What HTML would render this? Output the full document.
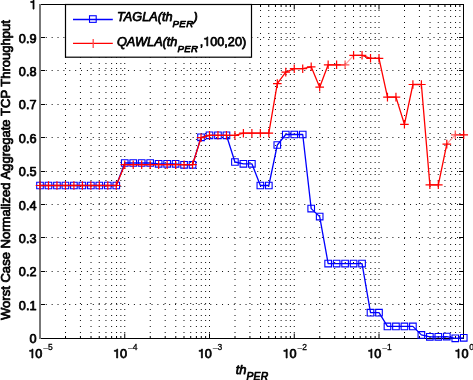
<!DOCTYPE html><html><head><meta charset="utf-8"><style>
html,body{margin:0;padding:0;background:#fff;}body{width:473px;height:380px;overflow:hidden;position:relative;}
svg{position:absolute;left:0;top:0;will-change:transform;}.one{fill-opacity:0;stroke-opacity:0;}text{font-family:"Liberation Sans",sans-serif;fill:#000;stroke:#000;stroke-width:0.75px;stroke-linejoin:round;}
</style></head><body>
<svg width="473" height="380" viewBox="0 0 473 380">
<path d="M65.01 332h1v1h-1zM65.01 326h1v1h-1zM65.01 320h1v1h-1zM65.01 315h1v1h-1zM65.01 309h1v1h-1zM65.01 303h1v1h-1zM65.01 297h1v1h-1zM65.01 291h1v1h-1zM65.01 285h1v1h-1zM65.01 279h1v1h-1zM65.01 274h1v1h-1zM65.01 268h1v1h-1zM65.01 262h1v1h-1zM65.01 256h1v1h-1zM65.01 250h1v1h-1zM65.01 244h1v1h-1zM65.01 238h1v1h-1zM65.01 232h1v1h-1zM65.01 227h1v1h-1zM65.01 221h1v1h-1zM65.01 215h1v1h-1zM65.01 209h1v1h-1zM65.01 203h1v1h-1zM65.01 197h1v1h-1zM65.01 191h1v1h-1zM65.01 186h1v1h-1zM65.01 180h1v1h-1zM65.01 174h1v1h-1zM65.01 168h1v1h-1zM65.01 162h1v1h-1zM65.01 156h1v1h-1zM65.01 150h1v1h-1zM65.01 145h1v1h-1zM65.01 139h1v1h-1zM65.01 133h1v1h-1zM65.01 127h1v1h-1zM65.01 121h1v1h-1zM65.01 115h1v1h-1zM65.01 109h1v1h-1zM65.01 104h1v1h-1zM65.01 98h1v1h-1zM65.01 92h1v1h-1zM65.01 86h1v1h-1zM65.01 80h1v1h-1zM65.01 74h1v1h-1zM65.01 68h1v1h-1zM65.01 63h1v1h-1zM65.01 57h1v1h-1zM65.01 51h1v1h-1zM65.01 45h1v1h-1zM65.01 39h1v1h-1zM65.01 33h1v1h-1zM65.01 27h1v1h-1zM65.01 22h1v1h-1zM65.01 16h1v1h-1zM65.01 10h1v1h-1zM79.94 332h1v1h-1zM79.94 326h1v1h-1zM79.94 320h1v1h-1zM79.94 315h1v1h-1zM79.94 309h1v1h-1zM79.94 303h1v1h-1zM79.94 297h1v1h-1zM79.94 291h1v1h-1zM79.94 285h1v1h-1zM79.94 279h1v1h-1zM79.94 274h1v1h-1zM79.94 268h1v1h-1zM79.94 262h1v1h-1zM79.94 256h1v1h-1zM79.94 250h1v1h-1zM79.94 244h1v1h-1zM79.94 238h1v1h-1zM79.94 232h1v1h-1zM79.94 227h1v1h-1zM79.94 221h1v1h-1zM79.94 215h1v1h-1zM79.94 209h1v1h-1zM79.94 203h1v1h-1zM79.94 197h1v1h-1zM79.94 191h1v1h-1zM79.94 186h1v1h-1zM79.94 180h1v1h-1zM79.94 174h1v1h-1zM79.94 168h1v1h-1zM79.94 162h1v1h-1zM79.94 156h1v1h-1zM79.94 150h1v1h-1zM79.94 145h1v1h-1zM79.94 139h1v1h-1zM79.94 133h1v1h-1zM79.94 127h1v1h-1zM79.94 121h1v1h-1zM79.94 115h1v1h-1zM79.94 109h1v1h-1zM79.94 104h1v1h-1zM79.94 98h1v1h-1zM79.94 92h1v1h-1zM79.94 86h1v1h-1zM79.94 80h1v1h-1zM79.94 74h1v1h-1zM79.94 68h1v1h-1zM79.94 63h1v1h-1zM79.94 57h1v1h-1zM79.94 51h1v1h-1zM79.94 45h1v1h-1zM79.94 39h1v1h-1zM79.94 33h1v1h-1zM79.94 27h1v1h-1zM79.94 22h1v1h-1zM79.94 16h1v1h-1zM79.94 10h1v1h-1zM90.52 332h1v1h-1zM90.52 326h1v1h-1zM90.52 320h1v1h-1zM90.52 315h1v1h-1zM90.52 309h1v1h-1zM90.52 303h1v1h-1zM90.52 297h1v1h-1zM90.52 291h1v1h-1zM90.52 285h1v1h-1zM90.52 279h1v1h-1zM90.52 274h1v1h-1zM90.52 268h1v1h-1zM90.52 262h1v1h-1zM90.52 256h1v1h-1zM90.52 250h1v1h-1zM90.52 244h1v1h-1zM90.52 238h1v1h-1zM90.52 232h1v1h-1zM90.52 227h1v1h-1zM90.52 221h1v1h-1zM90.52 215h1v1h-1zM90.52 209h1v1h-1zM90.52 203h1v1h-1zM90.52 197h1v1h-1zM90.52 191h1v1h-1zM90.52 186h1v1h-1zM90.52 180h1v1h-1zM90.52 174h1v1h-1zM90.52 168h1v1h-1zM90.52 162h1v1h-1zM90.52 156h1v1h-1zM90.52 150h1v1h-1zM90.52 145h1v1h-1zM90.52 139h1v1h-1zM90.52 133h1v1h-1zM90.52 127h1v1h-1zM90.52 121h1v1h-1zM90.52 115h1v1h-1zM90.52 109h1v1h-1zM90.52 104h1v1h-1zM90.52 98h1v1h-1zM90.52 92h1v1h-1zM90.52 86h1v1h-1zM90.52 80h1v1h-1zM90.52 74h1v1h-1zM90.52 68h1v1h-1zM90.52 63h1v1h-1zM90.52 57h1v1h-1zM90.52 51h1v1h-1zM90.52 45h1v1h-1zM90.52 39h1v1h-1zM90.52 33h1v1h-1zM90.52 27h1v1h-1zM90.52 22h1v1h-1zM90.52 16h1v1h-1zM90.52 10h1v1h-1zM98.74 332h1v1h-1zM98.74 326h1v1h-1zM98.74 320h1v1h-1zM98.74 315h1v1h-1zM98.74 309h1v1h-1zM98.74 303h1v1h-1zM98.74 297h1v1h-1zM98.74 291h1v1h-1zM98.74 285h1v1h-1zM98.74 279h1v1h-1zM98.74 274h1v1h-1zM98.74 268h1v1h-1zM98.74 262h1v1h-1zM98.74 256h1v1h-1zM98.74 250h1v1h-1zM98.74 244h1v1h-1zM98.74 238h1v1h-1zM98.74 232h1v1h-1zM98.74 227h1v1h-1zM98.74 221h1v1h-1zM98.74 215h1v1h-1zM98.74 209h1v1h-1zM98.74 203h1v1h-1zM98.74 197h1v1h-1zM98.74 191h1v1h-1zM98.74 186h1v1h-1zM98.74 180h1v1h-1zM98.74 174h1v1h-1zM98.74 168h1v1h-1zM98.74 162h1v1h-1zM98.74 156h1v1h-1zM98.74 150h1v1h-1zM98.74 145h1v1h-1zM98.74 139h1v1h-1zM98.74 133h1v1h-1zM98.74 127h1v1h-1zM98.74 121h1v1h-1zM98.74 115h1v1h-1zM98.74 109h1v1h-1zM98.74 104h1v1h-1zM98.74 98h1v1h-1zM98.74 92h1v1h-1zM98.74 86h1v1h-1zM98.74 80h1v1h-1zM98.74 74h1v1h-1zM98.74 68h1v1h-1zM98.74 63h1v1h-1zM98.74 57h1v1h-1zM98.74 51h1v1h-1zM98.74 45h1v1h-1zM98.74 39h1v1h-1zM98.74 33h1v1h-1zM98.74 27h1v1h-1zM98.74 22h1v1h-1zM98.74 16h1v1h-1zM98.74 10h1v1h-1zM105.45 332h1v1h-1zM105.45 326h1v1h-1zM105.45 320h1v1h-1zM105.45 315h1v1h-1zM105.45 309h1v1h-1zM105.45 303h1v1h-1zM105.45 297h1v1h-1zM105.45 291h1v1h-1zM105.45 285h1v1h-1zM105.45 279h1v1h-1zM105.45 274h1v1h-1zM105.45 268h1v1h-1zM105.45 262h1v1h-1zM105.45 256h1v1h-1zM105.45 250h1v1h-1zM105.45 244h1v1h-1zM105.45 238h1v1h-1zM105.45 232h1v1h-1zM105.45 227h1v1h-1zM105.45 221h1v1h-1zM105.45 215h1v1h-1zM105.45 209h1v1h-1zM105.45 203h1v1h-1zM105.45 197h1v1h-1zM105.45 191h1v1h-1zM105.45 186h1v1h-1zM105.45 180h1v1h-1zM105.45 174h1v1h-1zM105.45 168h1v1h-1zM105.45 162h1v1h-1zM105.45 156h1v1h-1zM105.45 150h1v1h-1zM105.45 145h1v1h-1zM105.45 139h1v1h-1zM105.45 133h1v1h-1zM105.45 127h1v1h-1zM105.45 121h1v1h-1zM105.45 115h1v1h-1zM105.45 109h1v1h-1zM105.45 104h1v1h-1zM105.45 98h1v1h-1zM105.45 92h1v1h-1zM105.45 86h1v1h-1zM105.45 80h1v1h-1zM105.45 74h1v1h-1zM105.45 68h1v1h-1zM105.45 63h1v1h-1zM105.45 57h1v1h-1zM105.45 51h1v1h-1zM105.45 45h1v1h-1zM105.45 39h1v1h-1zM105.45 33h1v1h-1zM105.45 27h1v1h-1zM105.45 22h1v1h-1zM105.45 16h1v1h-1zM105.45 10h1v1h-1zM111.12 332h1v1h-1zM111.12 326h1v1h-1zM111.12 320h1v1h-1zM111.12 315h1v1h-1zM111.12 309h1v1h-1zM111.12 303h1v1h-1zM111.12 297h1v1h-1zM111.12 291h1v1h-1zM111.12 285h1v1h-1zM111.12 279h1v1h-1zM111.12 274h1v1h-1zM111.12 268h1v1h-1zM111.12 262h1v1h-1zM111.12 256h1v1h-1zM111.12 250h1v1h-1zM111.12 244h1v1h-1zM111.12 238h1v1h-1zM111.12 232h1v1h-1zM111.12 227h1v1h-1zM111.12 221h1v1h-1zM111.12 215h1v1h-1zM111.12 209h1v1h-1zM111.12 203h1v1h-1zM111.12 197h1v1h-1zM111.12 191h1v1h-1zM111.12 186h1v1h-1zM111.12 180h1v1h-1zM111.12 174h1v1h-1zM111.12 168h1v1h-1zM111.12 162h1v1h-1zM111.12 156h1v1h-1zM111.12 150h1v1h-1zM111.12 145h1v1h-1zM111.12 139h1v1h-1zM111.12 133h1v1h-1zM111.12 127h1v1h-1zM111.12 121h1v1h-1zM111.12 115h1v1h-1zM111.12 109h1v1h-1zM111.12 104h1v1h-1zM111.12 98h1v1h-1zM111.12 92h1v1h-1zM111.12 86h1v1h-1zM111.12 80h1v1h-1zM111.12 74h1v1h-1zM111.12 68h1v1h-1zM111.12 63h1v1h-1zM111.12 57h1v1h-1zM111.12 51h1v1h-1zM111.12 45h1v1h-1zM111.12 39h1v1h-1zM111.12 33h1v1h-1zM111.12 27h1v1h-1zM111.12 22h1v1h-1zM111.12 16h1v1h-1zM111.12 10h1v1h-1zM116.04 332h1v1h-1zM116.04 326h1v1h-1zM116.04 320h1v1h-1zM116.04 315h1v1h-1zM116.04 309h1v1h-1zM116.04 303h1v1h-1zM116.04 297h1v1h-1zM116.04 291h1v1h-1zM116.04 285h1v1h-1zM116.04 279h1v1h-1zM116.04 274h1v1h-1zM116.04 268h1v1h-1zM116.04 262h1v1h-1zM116.04 256h1v1h-1zM116.04 250h1v1h-1zM116.04 244h1v1h-1zM116.04 238h1v1h-1zM116.04 232h1v1h-1zM116.04 227h1v1h-1zM116.04 221h1v1h-1zM116.04 215h1v1h-1zM116.04 209h1v1h-1zM116.04 203h1v1h-1zM116.04 197h1v1h-1zM116.04 191h1v1h-1zM116.04 186h1v1h-1zM116.04 180h1v1h-1zM116.04 174h1v1h-1zM116.04 168h1v1h-1zM116.04 162h1v1h-1zM116.04 156h1v1h-1zM116.04 150h1v1h-1zM116.04 145h1v1h-1zM116.04 139h1v1h-1zM116.04 133h1v1h-1zM116.04 127h1v1h-1zM116.04 121h1v1h-1zM116.04 115h1v1h-1zM116.04 109h1v1h-1zM116.04 104h1v1h-1zM116.04 98h1v1h-1zM116.04 92h1v1h-1zM116.04 86h1v1h-1zM116.04 80h1v1h-1zM116.04 74h1v1h-1zM116.04 68h1v1h-1zM116.04 63h1v1h-1zM116.04 57h1v1h-1zM116.04 51h1v1h-1zM116.04 45h1v1h-1zM116.04 39h1v1h-1zM116.04 33h1v1h-1zM116.04 27h1v1h-1zM116.04 22h1v1h-1zM116.04 16h1v1h-1zM116.04 10h1v1h-1zM120.37 332h1v1h-1zM120.37 326h1v1h-1zM120.37 320h1v1h-1zM120.37 315h1v1h-1zM120.37 309h1v1h-1zM120.37 303h1v1h-1zM120.37 297h1v1h-1zM120.37 291h1v1h-1zM120.37 285h1v1h-1zM120.37 279h1v1h-1zM120.37 274h1v1h-1zM120.37 268h1v1h-1zM120.37 262h1v1h-1zM120.37 256h1v1h-1zM120.37 250h1v1h-1zM120.37 244h1v1h-1zM120.37 238h1v1h-1zM120.37 232h1v1h-1zM120.37 227h1v1h-1zM120.37 221h1v1h-1zM120.37 215h1v1h-1zM120.37 209h1v1h-1zM120.37 203h1v1h-1zM120.37 197h1v1h-1zM120.37 191h1v1h-1zM120.37 186h1v1h-1zM120.37 180h1v1h-1zM120.37 174h1v1h-1zM120.37 168h1v1h-1zM120.37 162h1v1h-1zM120.37 156h1v1h-1zM120.37 150h1v1h-1zM120.37 145h1v1h-1zM120.37 139h1v1h-1zM120.37 133h1v1h-1zM120.37 127h1v1h-1zM120.37 121h1v1h-1zM120.37 115h1v1h-1zM120.37 109h1v1h-1zM120.37 104h1v1h-1zM120.37 98h1v1h-1zM120.37 92h1v1h-1zM120.37 86h1v1h-1zM120.37 80h1v1h-1zM120.37 74h1v1h-1zM120.37 68h1v1h-1zM120.37 63h1v1h-1zM120.37 57h1v1h-1zM120.37 51h1v1h-1zM120.37 45h1v1h-1zM120.37 39h1v1h-1zM120.37 33h1v1h-1zM120.37 27h1v1h-1zM120.37 22h1v1h-1zM120.37 16h1v1h-1zM120.37 10h1v1h-1zM124.25 332h1v1h-1zM124.25 326h1v1h-1zM124.25 320h1v1h-1zM124.25 315h1v1h-1zM124.25 309h1v1h-1zM124.25 303h1v1h-1zM124.25 297h1v1h-1zM124.25 291h1v1h-1zM124.25 285h1v1h-1zM124.25 279h1v1h-1zM124.25 274h1v1h-1zM124.25 268h1v1h-1zM124.25 262h1v1h-1zM124.25 256h1v1h-1zM124.25 250h1v1h-1zM124.25 244h1v1h-1zM124.25 238h1v1h-1zM124.25 232h1v1h-1zM124.25 227h1v1h-1zM124.25 221h1v1h-1zM124.25 215h1v1h-1zM124.25 209h1v1h-1zM124.25 203h1v1h-1zM124.25 197h1v1h-1zM124.25 191h1v1h-1zM124.25 186h1v1h-1zM124.25 180h1v1h-1zM124.25 174h1v1h-1zM124.25 168h1v1h-1zM124.25 162h1v1h-1zM124.25 156h1v1h-1zM124.25 150h1v1h-1zM124.25 145h1v1h-1zM124.25 139h1v1h-1zM124.25 133h1v1h-1zM124.25 127h1v1h-1zM124.25 121h1v1h-1zM124.25 115h1v1h-1zM124.25 109h1v1h-1zM124.25 104h1v1h-1zM124.25 98h1v1h-1zM124.25 92h1v1h-1zM124.25 86h1v1h-1zM124.25 80h1v1h-1zM124.25 74h1v1h-1zM124.25 68h1v1h-1zM124.25 63h1v1h-1zM124.25 57h1v1h-1zM124.25 51h1v1h-1zM124.25 45h1v1h-1zM124.25 39h1v1h-1zM124.25 33h1v1h-1zM124.25 27h1v1h-1zM124.25 22h1v1h-1zM124.25 16h1v1h-1zM124.25 10h1v1h-1zM149.76 332h1v1h-1zM149.76 326h1v1h-1zM149.76 320h1v1h-1zM149.76 315h1v1h-1zM149.76 309h1v1h-1zM149.76 303h1v1h-1zM149.76 297h1v1h-1zM149.76 291h1v1h-1zM149.76 285h1v1h-1zM149.76 279h1v1h-1zM149.76 274h1v1h-1zM149.76 268h1v1h-1zM149.76 262h1v1h-1zM149.76 256h1v1h-1zM149.76 250h1v1h-1zM149.76 244h1v1h-1zM149.76 238h1v1h-1zM149.76 232h1v1h-1zM149.76 227h1v1h-1zM149.76 221h1v1h-1zM149.76 215h1v1h-1zM149.76 209h1v1h-1zM149.76 203h1v1h-1zM149.76 197h1v1h-1zM149.76 191h1v1h-1zM149.76 186h1v1h-1zM149.76 180h1v1h-1zM149.76 174h1v1h-1zM149.76 168h1v1h-1zM149.76 162h1v1h-1zM149.76 156h1v1h-1zM149.76 150h1v1h-1zM149.76 145h1v1h-1zM149.76 139h1v1h-1zM149.76 133h1v1h-1zM149.76 127h1v1h-1zM149.76 121h1v1h-1zM149.76 115h1v1h-1zM149.76 109h1v1h-1zM149.76 104h1v1h-1zM149.76 98h1v1h-1zM149.76 92h1v1h-1zM149.76 86h1v1h-1zM149.76 80h1v1h-1zM149.76 74h1v1h-1zM149.76 68h1v1h-1zM149.76 63h1v1h-1zM149.76 57h1v1h-1zM149.76 51h1v1h-1zM149.76 45h1v1h-1zM149.76 39h1v1h-1zM149.76 33h1v1h-1zM149.76 27h1v1h-1zM149.76 22h1v1h-1zM149.76 16h1v1h-1zM149.76 10h1v1h-1zM164.69 332h1v1h-1zM164.69 326h1v1h-1zM164.69 320h1v1h-1zM164.69 315h1v1h-1zM164.69 309h1v1h-1zM164.69 303h1v1h-1zM164.69 297h1v1h-1zM164.69 291h1v1h-1zM164.69 285h1v1h-1zM164.69 279h1v1h-1zM164.69 274h1v1h-1zM164.69 268h1v1h-1zM164.69 262h1v1h-1zM164.69 256h1v1h-1zM164.69 250h1v1h-1zM164.69 244h1v1h-1zM164.69 238h1v1h-1zM164.69 232h1v1h-1zM164.69 227h1v1h-1zM164.69 221h1v1h-1zM164.69 215h1v1h-1zM164.69 209h1v1h-1zM164.69 203h1v1h-1zM164.69 197h1v1h-1zM164.69 191h1v1h-1zM164.69 186h1v1h-1zM164.69 180h1v1h-1zM164.69 174h1v1h-1zM164.69 168h1v1h-1zM164.69 162h1v1h-1zM164.69 156h1v1h-1zM164.69 150h1v1h-1zM164.69 145h1v1h-1zM164.69 139h1v1h-1zM164.69 133h1v1h-1zM164.69 127h1v1h-1zM164.69 121h1v1h-1zM164.69 115h1v1h-1zM164.69 109h1v1h-1zM164.69 104h1v1h-1zM164.69 98h1v1h-1zM164.69 92h1v1h-1zM164.69 86h1v1h-1zM164.69 80h1v1h-1zM164.69 74h1v1h-1zM164.69 68h1v1h-1zM164.69 63h1v1h-1zM164.69 57h1v1h-1zM164.69 51h1v1h-1zM164.69 45h1v1h-1zM164.69 39h1v1h-1zM164.69 33h1v1h-1zM164.69 27h1v1h-1zM164.69 22h1v1h-1zM164.69 16h1v1h-1zM164.69 10h1v1h-1zM175.27 332h1v1h-1zM175.27 326h1v1h-1zM175.27 320h1v1h-1zM175.27 315h1v1h-1zM175.27 309h1v1h-1zM175.27 303h1v1h-1zM175.27 297h1v1h-1zM175.27 291h1v1h-1zM175.27 285h1v1h-1zM175.27 279h1v1h-1zM175.27 274h1v1h-1zM175.27 268h1v1h-1zM175.27 262h1v1h-1zM175.27 256h1v1h-1zM175.27 250h1v1h-1zM175.27 244h1v1h-1zM175.27 238h1v1h-1zM175.27 232h1v1h-1zM175.27 227h1v1h-1zM175.27 221h1v1h-1zM175.27 215h1v1h-1zM175.27 209h1v1h-1zM175.27 203h1v1h-1zM175.27 197h1v1h-1zM175.27 191h1v1h-1zM175.27 186h1v1h-1zM175.27 180h1v1h-1zM175.27 174h1v1h-1zM175.27 168h1v1h-1zM175.27 162h1v1h-1zM175.27 156h1v1h-1zM175.27 150h1v1h-1zM175.27 145h1v1h-1zM175.27 139h1v1h-1zM175.27 133h1v1h-1zM175.27 127h1v1h-1zM175.27 121h1v1h-1zM175.27 115h1v1h-1zM175.27 109h1v1h-1zM175.27 104h1v1h-1zM175.27 98h1v1h-1zM175.27 92h1v1h-1zM175.27 86h1v1h-1zM175.27 80h1v1h-1zM175.27 74h1v1h-1zM175.27 68h1v1h-1zM175.27 63h1v1h-1zM175.27 57h1v1h-1zM175.27 51h1v1h-1zM175.27 45h1v1h-1zM175.27 39h1v1h-1zM175.27 33h1v1h-1zM175.27 27h1v1h-1zM175.27 22h1v1h-1zM175.27 16h1v1h-1zM175.27 10h1v1h-1zM183.49 332h1v1h-1zM183.49 326h1v1h-1zM183.49 320h1v1h-1zM183.49 315h1v1h-1zM183.49 309h1v1h-1zM183.49 303h1v1h-1zM183.49 297h1v1h-1zM183.49 291h1v1h-1zM183.49 285h1v1h-1zM183.49 279h1v1h-1zM183.49 274h1v1h-1zM183.49 268h1v1h-1zM183.49 262h1v1h-1zM183.49 256h1v1h-1zM183.49 250h1v1h-1zM183.49 244h1v1h-1zM183.49 238h1v1h-1zM183.49 232h1v1h-1zM183.49 227h1v1h-1zM183.49 221h1v1h-1zM183.49 215h1v1h-1zM183.49 209h1v1h-1zM183.49 203h1v1h-1zM183.49 197h1v1h-1zM183.49 191h1v1h-1zM183.49 186h1v1h-1zM183.49 180h1v1h-1zM183.49 174h1v1h-1zM183.49 168h1v1h-1zM183.49 162h1v1h-1zM183.49 156h1v1h-1zM183.49 150h1v1h-1zM183.49 145h1v1h-1zM183.49 139h1v1h-1zM183.49 133h1v1h-1zM183.49 127h1v1h-1zM183.49 121h1v1h-1zM183.49 115h1v1h-1zM183.49 109h1v1h-1zM183.49 104h1v1h-1zM183.49 98h1v1h-1zM183.49 92h1v1h-1zM183.49 86h1v1h-1zM183.49 80h1v1h-1zM183.49 74h1v1h-1zM183.49 68h1v1h-1zM183.49 63h1v1h-1zM183.49 57h1v1h-1zM183.49 51h1v1h-1zM183.49 45h1v1h-1zM183.49 39h1v1h-1zM183.49 33h1v1h-1zM183.49 27h1v1h-1zM183.49 22h1v1h-1zM183.49 16h1v1h-1zM183.49 10h1v1h-1zM190.20 332h1v1h-1zM190.20 326h1v1h-1zM190.20 320h1v1h-1zM190.20 315h1v1h-1zM190.20 309h1v1h-1zM190.20 303h1v1h-1zM190.20 297h1v1h-1zM190.20 291h1v1h-1zM190.20 285h1v1h-1zM190.20 279h1v1h-1zM190.20 274h1v1h-1zM190.20 268h1v1h-1zM190.20 262h1v1h-1zM190.20 256h1v1h-1zM190.20 250h1v1h-1zM190.20 244h1v1h-1zM190.20 238h1v1h-1zM190.20 232h1v1h-1zM190.20 227h1v1h-1zM190.20 221h1v1h-1zM190.20 215h1v1h-1zM190.20 209h1v1h-1zM190.20 203h1v1h-1zM190.20 197h1v1h-1zM190.20 191h1v1h-1zM190.20 186h1v1h-1zM190.20 180h1v1h-1zM190.20 174h1v1h-1zM190.20 168h1v1h-1zM190.20 162h1v1h-1zM190.20 156h1v1h-1zM190.20 150h1v1h-1zM190.20 145h1v1h-1zM190.20 139h1v1h-1zM190.20 133h1v1h-1zM190.20 127h1v1h-1zM190.20 121h1v1h-1zM190.20 115h1v1h-1zM190.20 109h1v1h-1zM190.20 104h1v1h-1zM190.20 98h1v1h-1zM190.20 92h1v1h-1zM190.20 86h1v1h-1zM190.20 80h1v1h-1zM190.20 74h1v1h-1zM190.20 68h1v1h-1zM190.20 63h1v1h-1zM190.20 57h1v1h-1zM190.20 51h1v1h-1zM190.20 45h1v1h-1zM190.20 39h1v1h-1zM190.20 33h1v1h-1zM190.20 27h1v1h-1zM190.20 22h1v1h-1zM190.20 16h1v1h-1zM190.20 10h1v1h-1zM195.87 332h1v1h-1zM195.87 326h1v1h-1zM195.87 320h1v1h-1zM195.87 315h1v1h-1zM195.87 309h1v1h-1zM195.87 303h1v1h-1zM195.87 297h1v1h-1zM195.87 291h1v1h-1zM195.87 285h1v1h-1zM195.87 279h1v1h-1zM195.87 274h1v1h-1zM195.87 268h1v1h-1zM195.87 262h1v1h-1zM195.87 256h1v1h-1zM195.87 250h1v1h-1zM195.87 244h1v1h-1zM195.87 238h1v1h-1zM195.87 232h1v1h-1zM195.87 227h1v1h-1zM195.87 221h1v1h-1zM195.87 215h1v1h-1zM195.87 209h1v1h-1zM195.87 203h1v1h-1zM195.87 197h1v1h-1zM195.87 191h1v1h-1zM195.87 186h1v1h-1zM195.87 180h1v1h-1zM195.87 174h1v1h-1zM195.87 168h1v1h-1zM195.87 162h1v1h-1zM195.87 156h1v1h-1zM195.87 150h1v1h-1zM195.87 145h1v1h-1zM195.87 139h1v1h-1zM195.87 133h1v1h-1zM195.87 127h1v1h-1zM195.87 121h1v1h-1zM195.87 115h1v1h-1zM195.87 109h1v1h-1zM195.87 104h1v1h-1zM195.87 98h1v1h-1zM195.87 92h1v1h-1zM195.87 86h1v1h-1zM195.87 80h1v1h-1zM195.87 74h1v1h-1zM195.87 68h1v1h-1zM195.87 63h1v1h-1zM195.87 57h1v1h-1zM195.87 51h1v1h-1zM195.87 45h1v1h-1zM195.87 39h1v1h-1zM195.87 33h1v1h-1zM195.87 27h1v1h-1zM195.87 22h1v1h-1zM195.87 16h1v1h-1zM195.87 10h1v1h-1zM200.79 332h1v1h-1zM200.79 326h1v1h-1zM200.79 320h1v1h-1zM200.79 315h1v1h-1zM200.79 309h1v1h-1zM200.79 303h1v1h-1zM200.79 297h1v1h-1zM200.79 291h1v1h-1zM200.79 285h1v1h-1zM200.79 279h1v1h-1zM200.79 274h1v1h-1zM200.79 268h1v1h-1zM200.79 262h1v1h-1zM200.79 256h1v1h-1zM200.79 250h1v1h-1zM200.79 244h1v1h-1zM200.79 238h1v1h-1zM200.79 232h1v1h-1zM200.79 227h1v1h-1zM200.79 221h1v1h-1zM200.79 215h1v1h-1zM200.79 209h1v1h-1zM200.79 203h1v1h-1zM200.79 197h1v1h-1zM200.79 191h1v1h-1zM200.79 186h1v1h-1zM200.79 180h1v1h-1zM200.79 174h1v1h-1zM200.79 168h1v1h-1zM200.79 162h1v1h-1zM200.79 156h1v1h-1zM200.79 150h1v1h-1zM200.79 145h1v1h-1zM200.79 139h1v1h-1zM200.79 133h1v1h-1zM200.79 127h1v1h-1zM200.79 121h1v1h-1zM200.79 115h1v1h-1zM200.79 109h1v1h-1zM200.79 104h1v1h-1zM200.79 98h1v1h-1zM200.79 92h1v1h-1zM200.79 86h1v1h-1zM200.79 80h1v1h-1zM200.79 74h1v1h-1zM200.79 68h1v1h-1zM200.79 63h1v1h-1zM200.79 57h1v1h-1zM200.79 51h1v1h-1zM200.79 45h1v1h-1zM200.79 39h1v1h-1zM200.79 33h1v1h-1zM200.79 27h1v1h-1zM200.79 22h1v1h-1zM200.79 16h1v1h-1zM200.79 10h1v1h-1zM205.12 332h1v1h-1zM205.12 326h1v1h-1zM205.12 320h1v1h-1zM205.12 315h1v1h-1zM205.12 309h1v1h-1zM205.12 303h1v1h-1zM205.12 297h1v1h-1zM205.12 291h1v1h-1zM205.12 285h1v1h-1zM205.12 279h1v1h-1zM205.12 274h1v1h-1zM205.12 268h1v1h-1zM205.12 262h1v1h-1zM205.12 256h1v1h-1zM205.12 250h1v1h-1zM205.12 244h1v1h-1zM205.12 238h1v1h-1zM205.12 232h1v1h-1zM205.12 227h1v1h-1zM205.12 221h1v1h-1zM205.12 215h1v1h-1zM205.12 209h1v1h-1zM205.12 203h1v1h-1zM205.12 197h1v1h-1zM205.12 191h1v1h-1zM205.12 186h1v1h-1zM205.12 180h1v1h-1zM205.12 174h1v1h-1zM205.12 168h1v1h-1zM205.12 162h1v1h-1zM205.12 156h1v1h-1zM205.12 150h1v1h-1zM205.12 145h1v1h-1zM205.12 139h1v1h-1zM205.12 133h1v1h-1zM205.12 127h1v1h-1zM205.12 121h1v1h-1zM205.12 115h1v1h-1zM205.12 109h1v1h-1zM205.12 104h1v1h-1zM205.12 98h1v1h-1zM205.12 92h1v1h-1zM205.12 86h1v1h-1zM205.12 80h1v1h-1zM205.12 74h1v1h-1zM205.12 68h1v1h-1zM205.12 63h1v1h-1zM205.12 57h1v1h-1zM205.12 51h1v1h-1zM205.12 45h1v1h-1zM205.12 39h1v1h-1zM205.12 33h1v1h-1zM205.12 27h1v1h-1zM205.12 22h1v1h-1zM205.12 16h1v1h-1zM205.12 10h1v1h-1zM209.00 332h1v1h-1zM209.00 326h1v1h-1zM209.00 320h1v1h-1zM209.00 315h1v1h-1zM209.00 309h1v1h-1zM209.00 303h1v1h-1zM209.00 297h1v1h-1zM209.00 291h1v1h-1zM209.00 285h1v1h-1zM209.00 279h1v1h-1zM209.00 274h1v1h-1zM209.00 268h1v1h-1zM209.00 262h1v1h-1zM209.00 256h1v1h-1zM209.00 250h1v1h-1zM209.00 244h1v1h-1zM209.00 238h1v1h-1zM209.00 232h1v1h-1zM209.00 227h1v1h-1zM209.00 221h1v1h-1zM209.00 215h1v1h-1zM209.00 209h1v1h-1zM209.00 203h1v1h-1zM209.00 197h1v1h-1zM209.00 191h1v1h-1zM209.00 186h1v1h-1zM209.00 180h1v1h-1zM209.00 174h1v1h-1zM209.00 168h1v1h-1zM209.00 162h1v1h-1zM209.00 156h1v1h-1zM209.00 150h1v1h-1zM209.00 145h1v1h-1zM209.00 139h1v1h-1zM209.00 133h1v1h-1zM209.00 127h1v1h-1zM209.00 121h1v1h-1zM209.00 115h1v1h-1zM209.00 109h1v1h-1zM209.00 104h1v1h-1zM209.00 98h1v1h-1zM209.00 92h1v1h-1zM209.00 86h1v1h-1zM209.00 80h1v1h-1zM209.00 74h1v1h-1zM209.00 68h1v1h-1zM209.00 63h1v1h-1zM209.00 57h1v1h-1zM209.00 51h1v1h-1zM209.00 45h1v1h-1zM209.00 39h1v1h-1zM209.00 33h1v1h-1zM209.00 27h1v1h-1zM209.00 22h1v1h-1zM209.00 16h1v1h-1zM209.00 10h1v1h-1zM234.51 332h1v1h-1zM234.51 326h1v1h-1zM234.51 320h1v1h-1zM234.51 315h1v1h-1zM234.51 309h1v1h-1zM234.51 303h1v1h-1zM234.51 297h1v1h-1zM234.51 291h1v1h-1zM234.51 285h1v1h-1zM234.51 279h1v1h-1zM234.51 274h1v1h-1zM234.51 268h1v1h-1zM234.51 262h1v1h-1zM234.51 256h1v1h-1zM234.51 250h1v1h-1zM234.51 244h1v1h-1zM234.51 238h1v1h-1zM234.51 232h1v1h-1zM234.51 227h1v1h-1zM234.51 221h1v1h-1zM234.51 215h1v1h-1zM234.51 209h1v1h-1zM234.51 203h1v1h-1zM234.51 197h1v1h-1zM234.51 191h1v1h-1zM234.51 186h1v1h-1zM234.51 180h1v1h-1zM234.51 174h1v1h-1zM234.51 168h1v1h-1zM234.51 162h1v1h-1zM234.51 156h1v1h-1zM234.51 150h1v1h-1zM234.51 145h1v1h-1zM234.51 139h1v1h-1zM234.51 133h1v1h-1zM234.51 127h1v1h-1zM234.51 121h1v1h-1zM234.51 115h1v1h-1zM234.51 109h1v1h-1zM234.51 104h1v1h-1zM234.51 98h1v1h-1zM234.51 92h1v1h-1zM234.51 86h1v1h-1zM234.51 80h1v1h-1zM234.51 74h1v1h-1zM234.51 68h1v1h-1zM234.51 63h1v1h-1zM234.51 57h1v1h-1zM234.51 51h1v1h-1zM234.51 45h1v1h-1zM234.51 39h1v1h-1zM234.51 33h1v1h-1zM234.51 27h1v1h-1zM234.51 22h1v1h-1zM234.51 16h1v1h-1zM234.51 10h1v1h-1zM249.44 332h1v1h-1zM249.44 326h1v1h-1zM249.44 320h1v1h-1zM249.44 315h1v1h-1zM249.44 309h1v1h-1zM249.44 303h1v1h-1zM249.44 297h1v1h-1zM249.44 291h1v1h-1zM249.44 285h1v1h-1zM249.44 279h1v1h-1zM249.44 274h1v1h-1zM249.44 268h1v1h-1zM249.44 262h1v1h-1zM249.44 256h1v1h-1zM249.44 250h1v1h-1zM249.44 244h1v1h-1zM249.44 238h1v1h-1zM249.44 232h1v1h-1zM249.44 227h1v1h-1zM249.44 221h1v1h-1zM249.44 215h1v1h-1zM249.44 209h1v1h-1zM249.44 203h1v1h-1zM249.44 197h1v1h-1zM249.44 191h1v1h-1zM249.44 186h1v1h-1zM249.44 180h1v1h-1zM249.44 174h1v1h-1zM249.44 168h1v1h-1zM249.44 162h1v1h-1zM249.44 156h1v1h-1zM249.44 150h1v1h-1zM249.44 145h1v1h-1zM249.44 139h1v1h-1zM249.44 133h1v1h-1zM249.44 127h1v1h-1zM249.44 121h1v1h-1zM249.44 115h1v1h-1zM249.44 109h1v1h-1zM249.44 104h1v1h-1zM249.44 98h1v1h-1zM249.44 92h1v1h-1zM249.44 86h1v1h-1zM249.44 80h1v1h-1zM249.44 74h1v1h-1zM249.44 68h1v1h-1zM249.44 63h1v1h-1zM249.44 57h1v1h-1zM249.44 51h1v1h-1zM249.44 45h1v1h-1zM249.44 39h1v1h-1zM249.44 33h1v1h-1zM249.44 27h1v1h-1zM249.44 22h1v1h-1zM249.44 16h1v1h-1zM249.44 10h1v1h-1zM260.02 332h1v1h-1zM260.02 326h1v1h-1zM260.02 320h1v1h-1zM260.02 315h1v1h-1zM260.02 309h1v1h-1zM260.02 303h1v1h-1zM260.02 297h1v1h-1zM260.02 291h1v1h-1zM260.02 285h1v1h-1zM260.02 279h1v1h-1zM260.02 274h1v1h-1zM260.02 268h1v1h-1zM260.02 262h1v1h-1zM260.02 256h1v1h-1zM260.02 250h1v1h-1zM260.02 244h1v1h-1zM260.02 238h1v1h-1zM260.02 232h1v1h-1zM260.02 227h1v1h-1zM260.02 221h1v1h-1zM260.02 215h1v1h-1zM260.02 209h1v1h-1zM260.02 203h1v1h-1zM260.02 197h1v1h-1zM260.02 191h1v1h-1zM260.02 186h1v1h-1zM260.02 180h1v1h-1zM260.02 174h1v1h-1zM260.02 168h1v1h-1zM260.02 162h1v1h-1zM260.02 156h1v1h-1zM260.02 150h1v1h-1zM260.02 145h1v1h-1zM260.02 139h1v1h-1zM260.02 133h1v1h-1zM260.02 127h1v1h-1zM260.02 121h1v1h-1zM260.02 115h1v1h-1zM260.02 109h1v1h-1zM260.02 104h1v1h-1zM260.02 98h1v1h-1zM260.02 92h1v1h-1zM260.02 86h1v1h-1zM260.02 80h1v1h-1zM260.02 74h1v1h-1zM260.02 68h1v1h-1zM260.02 63h1v1h-1zM260.02 57h1v1h-1zM260.02 51h1v1h-1zM260.02 45h1v1h-1zM260.02 39h1v1h-1zM260.02 33h1v1h-1zM260.02 27h1v1h-1zM260.02 22h1v1h-1zM260.02 16h1v1h-1zM260.02 10h1v1h-1zM268.24 332h1v1h-1zM268.24 326h1v1h-1zM268.24 320h1v1h-1zM268.24 315h1v1h-1zM268.24 309h1v1h-1zM268.24 303h1v1h-1zM268.24 297h1v1h-1zM268.24 291h1v1h-1zM268.24 285h1v1h-1zM268.24 279h1v1h-1zM268.24 274h1v1h-1zM268.24 268h1v1h-1zM268.24 262h1v1h-1zM268.24 256h1v1h-1zM268.24 250h1v1h-1zM268.24 244h1v1h-1zM268.24 238h1v1h-1zM268.24 232h1v1h-1zM268.24 227h1v1h-1zM268.24 221h1v1h-1zM268.24 215h1v1h-1zM268.24 209h1v1h-1zM268.24 203h1v1h-1zM268.24 197h1v1h-1zM268.24 191h1v1h-1zM268.24 186h1v1h-1zM268.24 180h1v1h-1zM268.24 174h1v1h-1zM268.24 168h1v1h-1zM268.24 162h1v1h-1zM268.24 156h1v1h-1zM268.24 150h1v1h-1zM268.24 145h1v1h-1zM268.24 139h1v1h-1zM268.24 133h1v1h-1zM268.24 127h1v1h-1zM268.24 121h1v1h-1zM268.24 115h1v1h-1zM268.24 109h1v1h-1zM268.24 104h1v1h-1zM268.24 98h1v1h-1zM268.24 92h1v1h-1zM268.24 86h1v1h-1zM268.24 80h1v1h-1zM268.24 74h1v1h-1zM268.24 68h1v1h-1zM268.24 63h1v1h-1zM268.24 57h1v1h-1zM268.24 51h1v1h-1zM268.24 45h1v1h-1zM268.24 39h1v1h-1zM268.24 33h1v1h-1zM268.24 27h1v1h-1zM268.24 22h1v1h-1zM268.24 16h1v1h-1zM268.24 10h1v1h-1zM274.95 332h1v1h-1zM274.95 326h1v1h-1zM274.95 320h1v1h-1zM274.95 315h1v1h-1zM274.95 309h1v1h-1zM274.95 303h1v1h-1zM274.95 297h1v1h-1zM274.95 291h1v1h-1zM274.95 285h1v1h-1zM274.95 279h1v1h-1zM274.95 274h1v1h-1zM274.95 268h1v1h-1zM274.95 262h1v1h-1zM274.95 256h1v1h-1zM274.95 250h1v1h-1zM274.95 244h1v1h-1zM274.95 238h1v1h-1zM274.95 232h1v1h-1zM274.95 227h1v1h-1zM274.95 221h1v1h-1zM274.95 215h1v1h-1zM274.95 209h1v1h-1zM274.95 203h1v1h-1zM274.95 197h1v1h-1zM274.95 191h1v1h-1zM274.95 186h1v1h-1zM274.95 180h1v1h-1zM274.95 174h1v1h-1zM274.95 168h1v1h-1zM274.95 162h1v1h-1zM274.95 156h1v1h-1zM274.95 150h1v1h-1zM274.95 145h1v1h-1zM274.95 139h1v1h-1zM274.95 133h1v1h-1zM274.95 127h1v1h-1zM274.95 121h1v1h-1zM274.95 115h1v1h-1zM274.95 109h1v1h-1zM274.95 104h1v1h-1zM274.95 98h1v1h-1zM274.95 92h1v1h-1zM274.95 86h1v1h-1zM274.95 80h1v1h-1zM274.95 74h1v1h-1zM274.95 68h1v1h-1zM274.95 63h1v1h-1zM274.95 57h1v1h-1zM274.95 51h1v1h-1zM274.95 45h1v1h-1zM274.95 39h1v1h-1zM274.95 33h1v1h-1zM274.95 27h1v1h-1zM274.95 22h1v1h-1zM274.95 16h1v1h-1zM274.95 10h1v1h-1zM280.62 332h1v1h-1zM280.62 326h1v1h-1zM280.62 320h1v1h-1zM280.62 315h1v1h-1zM280.62 309h1v1h-1zM280.62 303h1v1h-1zM280.62 297h1v1h-1zM280.62 291h1v1h-1zM280.62 285h1v1h-1zM280.62 279h1v1h-1zM280.62 274h1v1h-1zM280.62 268h1v1h-1zM280.62 262h1v1h-1zM280.62 256h1v1h-1zM280.62 250h1v1h-1zM280.62 244h1v1h-1zM280.62 238h1v1h-1zM280.62 232h1v1h-1zM280.62 227h1v1h-1zM280.62 221h1v1h-1zM280.62 215h1v1h-1zM280.62 209h1v1h-1zM280.62 203h1v1h-1zM280.62 197h1v1h-1zM280.62 191h1v1h-1zM280.62 186h1v1h-1zM280.62 180h1v1h-1zM280.62 174h1v1h-1zM280.62 168h1v1h-1zM280.62 162h1v1h-1zM280.62 156h1v1h-1zM280.62 150h1v1h-1zM280.62 145h1v1h-1zM280.62 139h1v1h-1zM280.62 133h1v1h-1zM280.62 127h1v1h-1zM280.62 121h1v1h-1zM280.62 115h1v1h-1zM280.62 109h1v1h-1zM280.62 104h1v1h-1zM280.62 98h1v1h-1zM280.62 92h1v1h-1zM280.62 86h1v1h-1zM280.62 80h1v1h-1zM280.62 74h1v1h-1zM280.62 68h1v1h-1zM280.62 63h1v1h-1zM280.62 57h1v1h-1zM280.62 51h1v1h-1zM280.62 45h1v1h-1zM280.62 39h1v1h-1zM280.62 33h1v1h-1zM280.62 27h1v1h-1zM280.62 22h1v1h-1zM280.62 16h1v1h-1zM280.62 10h1v1h-1zM285.54 332h1v1h-1zM285.54 326h1v1h-1zM285.54 320h1v1h-1zM285.54 315h1v1h-1zM285.54 309h1v1h-1zM285.54 303h1v1h-1zM285.54 297h1v1h-1zM285.54 291h1v1h-1zM285.54 285h1v1h-1zM285.54 279h1v1h-1zM285.54 274h1v1h-1zM285.54 268h1v1h-1zM285.54 262h1v1h-1zM285.54 256h1v1h-1zM285.54 250h1v1h-1zM285.54 244h1v1h-1zM285.54 238h1v1h-1zM285.54 232h1v1h-1zM285.54 227h1v1h-1zM285.54 221h1v1h-1zM285.54 215h1v1h-1zM285.54 209h1v1h-1zM285.54 203h1v1h-1zM285.54 197h1v1h-1zM285.54 191h1v1h-1zM285.54 186h1v1h-1zM285.54 180h1v1h-1zM285.54 174h1v1h-1zM285.54 168h1v1h-1zM285.54 162h1v1h-1zM285.54 156h1v1h-1zM285.54 150h1v1h-1zM285.54 145h1v1h-1zM285.54 139h1v1h-1zM285.54 133h1v1h-1zM285.54 127h1v1h-1zM285.54 121h1v1h-1zM285.54 115h1v1h-1zM285.54 109h1v1h-1zM285.54 104h1v1h-1zM285.54 98h1v1h-1zM285.54 92h1v1h-1zM285.54 86h1v1h-1zM285.54 80h1v1h-1zM285.54 74h1v1h-1zM285.54 68h1v1h-1zM285.54 63h1v1h-1zM285.54 57h1v1h-1zM285.54 51h1v1h-1zM285.54 45h1v1h-1zM285.54 39h1v1h-1zM285.54 33h1v1h-1zM285.54 27h1v1h-1zM285.54 22h1v1h-1zM285.54 16h1v1h-1zM285.54 10h1v1h-1zM289.87 332h1v1h-1zM289.87 326h1v1h-1zM289.87 320h1v1h-1zM289.87 315h1v1h-1zM289.87 309h1v1h-1zM289.87 303h1v1h-1zM289.87 297h1v1h-1zM289.87 291h1v1h-1zM289.87 285h1v1h-1zM289.87 279h1v1h-1zM289.87 274h1v1h-1zM289.87 268h1v1h-1zM289.87 262h1v1h-1zM289.87 256h1v1h-1zM289.87 250h1v1h-1zM289.87 244h1v1h-1zM289.87 238h1v1h-1zM289.87 232h1v1h-1zM289.87 227h1v1h-1zM289.87 221h1v1h-1zM289.87 215h1v1h-1zM289.87 209h1v1h-1zM289.87 203h1v1h-1zM289.87 197h1v1h-1zM289.87 191h1v1h-1zM289.87 186h1v1h-1zM289.87 180h1v1h-1zM289.87 174h1v1h-1zM289.87 168h1v1h-1zM289.87 162h1v1h-1zM289.87 156h1v1h-1zM289.87 150h1v1h-1zM289.87 145h1v1h-1zM289.87 139h1v1h-1zM289.87 133h1v1h-1zM289.87 127h1v1h-1zM289.87 121h1v1h-1zM289.87 115h1v1h-1zM289.87 109h1v1h-1zM289.87 104h1v1h-1zM289.87 98h1v1h-1zM289.87 92h1v1h-1zM289.87 86h1v1h-1zM289.87 80h1v1h-1zM289.87 74h1v1h-1zM289.87 68h1v1h-1zM289.87 63h1v1h-1zM289.87 57h1v1h-1zM289.87 51h1v1h-1zM289.87 45h1v1h-1zM289.87 39h1v1h-1zM289.87 33h1v1h-1zM289.87 27h1v1h-1zM289.87 22h1v1h-1zM289.87 16h1v1h-1zM289.87 10h1v1h-1zM293.75 332h1v1h-1zM293.75 326h1v1h-1zM293.75 320h1v1h-1zM293.75 315h1v1h-1zM293.75 309h1v1h-1zM293.75 303h1v1h-1zM293.75 297h1v1h-1zM293.75 291h1v1h-1zM293.75 285h1v1h-1zM293.75 279h1v1h-1zM293.75 274h1v1h-1zM293.75 268h1v1h-1zM293.75 262h1v1h-1zM293.75 256h1v1h-1zM293.75 250h1v1h-1zM293.75 244h1v1h-1zM293.75 238h1v1h-1zM293.75 232h1v1h-1zM293.75 227h1v1h-1zM293.75 221h1v1h-1zM293.75 215h1v1h-1zM293.75 209h1v1h-1zM293.75 203h1v1h-1zM293.75 197h1v1h-1zM293.75 191h1v1h-1zM293.75 186h1v1h-1zM293.75 180h1v1h-1zM293.75 174h1v1h-1zM293.75 168h1v1h-1zM293.75 162h1v1h-1zM293.75 156h1v1h-1zM293.75 150h1v1h-1zM293.75 145h1v1h-1zM293.75 139h1v1h-1zM293.75 133h1v1h-1zM293.75 127h1v1h-1zM293.75 121h1v1h-1zM293.75 115h1v1h-1zM293.75 109h1v1h-1zM293.75 104h1v1h-1zM293.75 98h1v1h-1zM293.75 92h1v1h-1zM293.75 86h1v1h-1zM293.75 80h1v1h-1zM293.75 74h1v1h-1zM293.75 68h1v1h-1zM293.75 63h1v1h-1zM293.75 57h1v1h-1zM293.75 51h1v1h-1zM293.75 45h1v1h-1zM293.75 39h1v1h-1zM293.75 33h1v1h-1zM293.75 27h1v1h-1zM293.75 22h1v1h-1zM293.75 16h1v1h-1zM293.75 10h1v1h-1zM319.26 332h1v1h-1zM319.26 326h1v1h-1zM319.26 320h1v1h-1zM319.26 315h1v1h-1zM319.26 309h1v1h-1zM319.26 303h1v1h-1zM319.26 297h1v1h-1zM319.26 291h1v1h-1zM319.26 285h1v1h-1zM319.26 279h1v1h-1zM319.26 274h1v1h-1zM319.26 268h1v1h-1zM319.26 262h1v1h-1zM319.26 256h1v1h-1zM319.26 250h1v1h-1zM319.26 244h1v1h-1zM319.26 238h1v1h-1zM319.26 232h1v1h-1zM319.26 227h1v1h-1zM319.26 221h1v1h-1zM319.26 215h1v1h-1zM319.26 209h1v1h-1zM319.26 203h1v1h-1zM319.26 197h1v1h-1zM319.26 191h1v1h-1zM319.26 186h1v1h-1zM319.26 180h1v1h-1zM319.26 174h1v1h-1zM319.26 168h1v1h-1zM319.26 162h1v1h-1zM319.26 156h1v1h-1zM319.26 150h1v1h-1zM319.26 145h1v1h-1zM319.26 139h1v1h-1zM319.26 133h1v1h-1zM319.26 127h1v1h-1zM319.26 121h1v1h-1zM319.26 115h1v1h-1zM319.26 109h1v1h-1zM319.26 104h1v1h-1zM319.26 98h1v1h-1zM319.26 92h1v1h-1zM319.26 86h1v1h-1zM319.26 80h1v1h-1zM319.26 74h1v1h-1zM319.26 68h1v1h-1zM319.26 63h1v1h-1zM319.26 57h1v1h-1zM319.26 51h1v1h-1zM319.26 45h1v1h-1zM319.26 39h1v1h-1zM319.26 33h1v1h-1zM319.26 27h1v1h-1zM319.26 22h1v1h-1zM319.26 16h1v1h-1zM319.26 10h1v1h-1zM334.19 332h1v1h-1zM334.19 326h1v1h-1zM334.19 320h1v1h-1zM334.19 315h1v1h-1zM334.19 309h1v1h-1zM334.19 303h1v1h-1zM334.19 297h1v1h-1zM334.19 291h1v1h-1zM334.19 285h1v1h-1zM334.19 279h1v1h-1zM334.19 274h1v1h-1zM334.19 268h1v1h-1zM334.19 262h1v1h-1zM334.19 256h1v1h-1zM334.19 250h1v1h-1zM334.19 244h1v1h-1zM334.19 238h1v1h-1zM334.19 232h1v1h-1zM334.19 227h1v1h-1zM334.19 221h1v1h-1zM334.19 215h1v1h-1zM334.19 209h1v1h-1zM334.19 203h1v1h-1zM334.19 197h1v1h-1zM334.19 191h1v1h-1zM334.19 186h1v1h-1zM334.19 180h1v1h-1zM334.19 174h1v1h-1zM334.19 168h1v1h-1zM334.19 162h1v1h-1zM334.19 156h1v1h-1zM334.19 150h1v1h-1zM334.19 145h1v1h-1zM334.19 139h1v1h-1zM334.19 133h1v1h-1zM334.19 127h1v1h-1zM334.19 121h1v1h-1zM334.19 115h1v1h-1zM334.19 109h1v1h-1zM334.19 104h1v1h-1zM334.19 98h1v1h-1zM334.19 92h1v1h-1zM334.19 86h1v1h-1zM334.19 80h1v1h-1zM334.19 74h1v1h-1zM334.19 68h1v1h-1zM334.19 63h1v1h-1zM334.19 57h1v1h-1zM334.19 51h1v1h-1zM334.19 45h1v1h-1zM334.19 39h1v1h-1zM334.19 33h1v1h-1zM334.19 27h1v1h-1zM334.19 22h1v1h-1zM334.19 16h1v1h-1zM334.19 10h1v1h-1zM344.77 332h1v1h-1zM344.77 326h1v1h-1zM344.77 320h1v1h-1zM344.77 315h1v1h-1zM344.77 309h1v1h-1zM344.77 303h1v1h-1zM344.77 297h1v1h-1zM344.77 291h1v1h-1zM344.77 285h1v1h-1zM344.77 279h1v1h-1zM344.77 274h1v1h-1zM344.77 268h1v1h-1zM344.77 262h1v1h-1zM344.77 256h1v1h-1zM344.77 250h1v1h-1zM344.77 244h1v1h-1zM344.77 238h1v1h-1zM344.77 232h1v1h-1zM344.77 227h1v1h-1zM344.77 221h1v1h-1zM344.77 215h1v1h-1zM344.77 209h1v1h-1zM344.77 203h1v1h-1zM344.77 197h1v1h-1zM344.77 191h1v1h-1zM344.77 186h1v1h-1zM344.77 180h1v1h-1zM344.77 174h1v1h-1zM344.77 168h1v1h-1zM344.77 162h1v1h-1zM344.77 156h1v1h-1zM344.77 150h1v1h-1zM344.77 145h1v1h-1zM344.77 139h1v1h-1zM344.77 133h1v1h-1zM344.77 127h1v1h-1zM344.77 121h1v1h-1zM344.77 115h1v1h-1zM344.77 109h1v1h-1zM344.77 104h1v1h-1zM344.77 98h1v1h-1zM344.77 92h1v1h-1zM344.77 86h1v1h-1zM344.77 80h1v1h-1zM344.77 74h1v1h-1zM344.77 68h1v1h-1zM344.77 63h1v1h-1zM344.77 57h1v1h-1zM344.77 51h1v1h-1zM344.77 45h1v1h-1zM344.77 39h1v1h-1zM344.77 33h1v1h-1zM344.77 27h1v1h-1zM344.77 22h1v1h-1zM344.77 16h1v1h-1zM344.77 10h1v1h-1zM352.99 332h1v1h-1zM352.99 326h1v1h-1zM352.99 320h1v1h-1zM352.99 315h1v1h-1zM352.99 309h1v1h-1zM352.99 303h1v1h-1zM352.99 297h1v1h-1zM352.99 291h1v1h-1zM352.99 285h1v1h-1zM352.99 279h1v1h-1zM352.99 274h1v1h-1zM352.99 268h1v1h-1zM352.99 262h1v1h-1zM352.99 256h1v1h-1zM352.99 250h1v1h-1zM352.99 244h1v1h-1zM352.99 238h1v1h-1zM352.99 232h1v1h-1zM352.99 227h1v1h-1zM352.99 221h1v1h-1zM352.99 215h1v1h-1zM352.99 209h1v1h-1zM352.99 203h1v1h-1zM352.99 197h1v1h-1zM352.99 191h1v1h-1zM352.99 186h1v1h-1zM352.99 180h1v1h-1zM352.99 174h1v1h-1zM352.99 168h1v1h-1zM352.99 162h1v1h-1zM352.99 156h1v1h-1zM352.99 150h1v1h-1zM352.99 145h1v1h-1zM352.99 139h1v1h-1zM352.99 133h1v1h-1zM352.99 127h1v1h-1zM352.99 121h1v1h-1zM352.99 115h1v1h-1zM352.99 109h1v1h-1zM352.99 104h1v1h-1zM352.99 98h1v1h-1zM352.99 92h1v1h-1zM352.99 86h1v1h-1zM352.99 80h1v1h-1zM352.99 74h1v1h-1zM352.99 68h1v1h-1zM352.99 63h1v1h-1zM352.99 57h1v1h-1zM352.99 51h1v1h-1zM352.99 45h1v1h-1zM352.99 39h1v1h-1zM352.99 33h1v1h-1zM352.99 27h1v1h-1zM352.99 22h1v1h-1zM352.99 16h1v1h-1zM352.99 10h1v1h-1zM359.70 332h1v1h-1zM359.70 326h1v1h-1zM359.70 320h1v1h-1zM359.70 315h1v1h-1zM359.70 309h1v1h-1zM359.70 303h1v1h-1zM359.70 297h1v1h-1zM359.70 291h1v1h-1zM359.70 285h1v1h-1zM359.70 279h1v1h-1zM359.70 274h1v1h-1zM359.70 268h1v1h-1zM359.70 262h1v1h-1zM359.70 256h1v1h-1zM359.70 250h1v1h-1zM359.70 244h1v1h-1zM359.70 238h1v1h-1zM359.70 232h1v1h-1zM359.70 227h1v1h-1zM359.70 221h1v1h-1zM359.70 215h1v1h-1zM359.70 209h1v1h-1zM359.70 203h1v1h-1zM359.70 197h1v1h-1zM359.70 191h1v1h-1zM359.70 186h1v1h-1zM359.70 180h1v1h-1zM359.70 174h1v1h-1zM359.70 168h1v1h-1zM359.70 162h1v1h-1zM359.70 156h1v1h-1zM359.70 150h1v1h-1zM359.70 145h1v1h-1zM359.70 139h1v1h-1zM359.70 133h1v1h-1zM359.70 127h1v1h-1zM359.70 121h1v1h-1zM359.70 115h1v1h-1zM359.70 109h1v1h-1zM359.70 104h1v1h-1zM359.70 98h1v1h-1zM359.70 92h1v1h-1zM359.70 86h1v1h-1zM359.70 80h1v1h-1zM359.70 74h1v1h-1zM359.70 68h1v1h-1zM359.70 63h1v1h-1zM359.70 57h1v1h-1zM359.70 51h1v1h-1zM359.70 45h1v1h-1zM359.70 39h1v1h-1zM359.70 33h1v1h-1zM359.70 27h1v1h-1zM359.70 22h1v1h-1zM359.70 16h1v1h-1zM359.70 10h1v1h-1zM365.37 332h1v1h-1zM365.37 326h1v1h-1zM365.37 320h1v1h-1zM365.37 315h1v1h-1zM365.37 309h1v1h-1zM365.37 303h1v1h-1zM365.37 297h1v1h-1zM365.37 291h1v1h-1zM365.37 285h1v1h-1zM365.37 279h1v1h-1zM365.37 274h1v1h-1zM365.37 268h1v1h-1zM365.37 262h1v1h-1zM365.37 256h1v1h-1zM365.37 250h1v1h-1zM365.37 244h1v1h-1zM365.37 238h1v1h-1zM365.37 232h1v1h-1zM365.37 227h1v1h-1zM365.37 221h1v1h-1zM365.37 215h1v1h-1zM365.37 209h1v1h-1zM365.37 203h1v1h-1zM365.37 197h1v1h-1zM365.37 191h1v1h-1zM365.37 186h1v1h-1zM365.37 180h1v1h-1zM365.37 174h1v1h-1zM365.37 168h1v1h-1zM365.37 162h1v1h-1zM365.37 156h1v1h-1zM365.37 150h1v1h-1zM365.37 145h1v1h-1zM365.37 139h1v1h-1zM365.37 133h1v1h-1zM365.37 127h1v1h-1zM365.37 121h1v1h-1zM365.37 115h1v1h-1zM365.37 109h1v1h-1zM365.37 104h1v1h-1zM365.37 98h1v1h-1zM365.37 92h1v1h-1zM365.37 86h1v1h-1zM365.37 80h1v1h-1zM365.37 74h1v1h-1zM365.37 68h1v1h-1zM365.37 63h1v1h-1zM365.37 57h1v1h-1zM365.37 51h1v1h-1zM365.37 45h1v1h-1zM365.37 39h1v1h-1zM365.37 33h1v1h-1zM365.37 27h1v1h-1zM365.37 22h1v1h-1zM365.37 16h1v1h-1zM365.37 10h1v1h-1zM370.29 332h1v1h-1zM370.29 326h1v1h-1zM370.29 320h1v1h-1zM370.29 315h1v1h-1zM370.29 309h1v1h-1zM370.29 303h1v1h-1zM370.29 297h1v1h-1zM370.29 291h1v1h-1zM370.29 285h1v1h-1zM370.29 279h1v1h-1zM370.29 274h1v1h-1zM370.29 268h1v1h-1zM370.29 262h1v1h-1zM370.29 256h1v1h-1zM370.29 250h1v1h-1zM370.29 244h1v1h-1zM370.29 238h1v1h-1zM370.29 232h1v1h-1zM370.29 227h1v1h-1zM370.29 221h1v1h-1zM370.29 215h1v1h-1zM370.29 209h1v1h-1zM370.29 203h1v1h-1zM370.29 197h1v1h-1zM370.29 191h1v1h-1zM370.29 186h1v1h-1zM370.29 180h1v1h-1zM370.29 174h1v1h-1zM370.29 168h1v1h-1zM370.29 162h1v1h-1zM370.29 156h1v1h-1zM370.29 150h1v1h-1zM370.29 145h1v1h-1zM370.29 139h1v1h-1zM370.29 133h1v1h-1zM370.29 127h1v1h-1zM370.29 121h1v1h-1zM370.29 115h1v1h-1zM370.29 109h1v1h-1zM370.29 104h1v1h-1zM370.29 98h1v1h-1zM370.29 92h1v1h-1zM370.29 86h1v1h-1zM370.29 80h1v1h-1zM370.29 74h1v1h-1zM370.29 68h1v1h-1zM370.29 63h1v1h-1zM370.29 57h1v1h-1zM370.29 51h1v1h-1zM370.29 45h1v1h-1zM370.29 39h1v1h-1zM370.29 33h1v1h-1zM370.29 27h1v1h-1zM370.29 22h1v1h-1zM370.29 16h1v1h-1zM370.29 10h1v1h-1zM374.62 332h1v1h-1zM374.62 326h1v1h-1zM374.62 320h1v1h-1zM374.62 315h1v1h-1zM374.62 309h1v1h-1zM374.62 303h1v1h-1zM374.62 297h1v1h-1zM374.62 291h1v1h-1zM374.62 285h1v1h-1zM374.62 279h1v1h-1zM374.62 274h1v1h-1zM374.62 268h1v1h-1zM374.62 262h1v1h-1zM374.62 256h1v1h-1zM374.62 250h1v1h-1zM374.62 244h1v1h-1zM374.62 238h1v1h-1zM374.62 232h1v1h-1zM374.62 227h1v1h-1zM374.62 221h1v1h-1zM374.62 215h1v1h-1zM374.62 209h1v1h-1zM374.62 203h1v1h-1zM374.62 197h1v1h-1zM374.62 191h1v1h-1zM374.62 186h1v1h-1zM374.62 180h1v1h-1zM374.62 174h1v1h-1zM374.62 168h1v1h-1zM374.62 162h1v1h-1zM374.62 156h1v1h-1zM374.62 150h1v1h-1zM374.62 145h1v1h-1zM374.62 139h1v1h-1zM374.62 133h1v1h-1zM374.62 127h1v1h-1zM374.62 121h1v1h-1zM374.62 115h1v1h-1zM374.62 109h1v1h-1zM374.62 104h1v1h-1zM374.62 98h1v1h-1zM374.62 92h1v1h-1zM374.62 86h1v1h-1zM374.62 80h1v1h-1zM374.62 74h1v1h-1zM374.62 68h1v1h-1zM374.62 63h1v1h-1zM374.62 57h1v1h-1zM374.62 51h1v1h-1zM374.62 45h1v1h-1zM374.62 39h1v1h-1zM374.62 33h1v1h-1zM374.62 27h1v1h-1zM374.62 22h1v1h-1zM374.62 16h1v1h-1zM374.62 10h1v1h-1zM378.50 332h1v1h-1zM378.50 326h1v1h-1zM378.50 320h1v1h-1zM378.50 315h1v1h-1zM378.50 309h1v1h-1zM378.50 303h1v1h-1zM378.50 297h1v1h-1zM378.50 291h1v1h-1zM378.50 285h1v1h-1zM378.50 279h1v1h-1zM378.50 274h1v1h-1zM378.50 268h1v1h-1zM378.50 262h1v1h-1zM378.50 256h1v1h-1zM378.50 250h1v1h-1zM378.50 244h1v1h-1zM378.50 238h1v1h-1zM378.50 232h1v1h-1zM378.50 227h1v1h-1zM378.50 221h1v1h-1zM378.50 215h1v1h-1zM378.50 209h1v1h-1zM378.50 203h1v1h-1zM378.50 197h1v1h-1zM378.50 191h1v1h-1zM378.50 186h1v1h-1zM378.50 180h1v1h-1zM378.50 174h1v1h-1zM378.50 168h1v1h-1zM378.50 162h1v1h-1zM378.50 156h1v1h-1zM378.50 150h1v1h-1zM378.50 145h1v1h-1zM378.50 139h1v1h-1zM378.50 133h1v1h-1zM378.50 127h1v1h-1zM378.50 121h1v1h-1zM378.50 115h1v1h-1zM378.50 109h1v1h-1zM378.50 104h1v1h-1zM378.50 98h1v1h-1zM378.50 92h1v1h-1zM378.50 86h1v1h-1zM378.50 80h1v1h-1zM378.50 74h1v1h-1zM378.50 68h1v1h-1zM378.50 63h1v1h-1zM378.50 57h1v1h-1zM378.50 51h1v1h-1zM378.50 45h1v1h-1zM378.50 39h1v1h-1zM378.50 33h1v1h-1zM378.50 27h1v1h-1zM378.50 22h1v1h-1zM378.50 16h1v1h-1zM378.50 10h1v1h-1zM404.01 332h1v1h-1zM404.01 326h1v1h-1zM404.01 320h1v1h-1zM404.01 315h1v1h-1zM404.01 309h1v1h-1zM404.01 303h1v1h-1zM404.01 297h1v1h-1zM404.01 291h1v1h-1zM404.01 285h1v1h-1zM404.01 279h1v1h-1zM404.01 274h1v1h-1zM404.01 268h1v1h-1zM404.01 262h1v1h-1zM404.01 256h1v1h-1zM404.01 250h1v1h-1zM404.01 244h1v1h-1zM404.01 238h1v1h-1zM404.01 232h1v1h-1zM404.01 227h1v1h-1zM404.01 221h1v1h-1zM404.01 215h1v1h-1zM404.01 209h1v1h-1zM404.01 203h1v1h-1zM404.01 197h1v1h-1zM404.01 191h1v1h-1zM404.01 186h1v1h-1zM404.01 180h1v1h-1zM404.01 174h1v1h-1zM404.01 168h1v1h-1zM404.01 162h1v1h-1zM404.01 156h1v1h-1zM404.01 150h1v1h-1zM404.01 145h1v1h-1zM404.01 139h1v1h-1zM404.01 133h1v1h-1zM404.01 127h1v1h-1zM404.01 121h1v1h-1zM404.01 115h1v1h-1zM404.01 109h1v1h-1zM404.01 104h1v1h-1zM404.01 98h1v1h-1zM404.01 92h1v1h-1zM404.01 86h1v1h-1zM404.01 80h1v1h-1zM404.01 74h1v1h-1zM404.01 68h1v1h-1zM404.01 63h1v1h-1zM404.01 57h1v1h-1zM404.01 51h1v1h-1zM404.01 45h1v1h-1zM404.01 39h1v1h-1zM404.01 33h1v1h-1zM404.01 27h1v1h-1zM404.01 22h1v1h-1zM404.01 16h1v1h-1zM404.01 10h1v1h-1zM418.94 332h1v1h-1zM418.94 326h1v1h-1zM418.94 320h1v1h-1zM418.94 315h1v1h-1zM418.94 309h1v1h-1zM418.94 303h1v1h-1zM418.94 297h1v1h-1zM418.94 291h1v1h-1zM418.94 285h1v1h-1zM418.94 279h1v1h-1zM418.94 274h1v1h-1zM418.94 268h1v1h-1zM418.94 262h1v1h-1zM418.94 256h1v1h-1zM418.94 250h1v1h-1zM418.94 244h1v1h-1zM418.94 238h1v1h-1zM418.94 232h1v1h-1zM418.94 227h1v1h-1zM418.94 221h1v1h-1zM418.94 215h1v1h-1zM418.94 209h1v1h-1zM418.94 203h1v1h-1zM418.94 197h1v1h-1zM418.94 191h1v1h-1zM418.94 186h1v1h-1zM418.94 180h1v1h-1zM418.94 174h1v1h-1zM418.94 168h1v1h-1zM418.94 162h1v1h-1zM418.94 156h1v1h-1zM418.94 150h1v1h-1zM418.94 145h1v1h-1zM418.94 139h1v1h-1zM418.94 133h1v1h-1zM418.94 127h1v1h-1zM418.94 121h1v1h-1zM418.94 115h1v1h-1zM418.94 109h1v1h-1zM418.94 104h1v1h-1zM418.94 98h1v1h-1zM418.94 92h1v1h-1zM418.94 86h1v1h-1zM418.94 80h1v1h-1zM418.94 74h1v1h-1zM418.94 68h1v1h-1zM418.94 63h1v1h-1zM418.94 57h1v1h-1zM418.94 51h1v1h-1zM418.94 45h1v1h-1zM418.94 39h1v1h-1zM418.94 33h1v1h-1zM418.94 27h1v1h-1zM418.94 22h1v1h-1zM418.94 16h1v1h-1zM418.94 10h1v1h-1zM429.52 332h1v1h-1zM429.52 326h1v1h-1zM429.52 320h1v1h-1zM429.52 315h1v1h-1zM429.52 309h1v1h-1zM429.52 303h1v1h-1zM429.52 297h1v1h-1zM429.52 291h1v1h-1zM429.52 285h1v1h-1zM429.52 279h1v1h-1zM429.52 274h1v1h-1zM429.52 268h1v1h-1zM429.52 262h1v1h-1zM429.52 256h1v1h-1zM429.52 250h1v1h-1zM429.52 244h1v1h-1zM429.52 238h1v1h-1zM429.52 232h1v1h-1zM429.52 227h1v1h-1zM429.52 221h1v1h-1zM429.52 215h1v1h-1zM429.52 209h1v1h-1zM429.52 203h1v1h-1zM429.52 197h1v1h-1zM429.52 191h1v1h-1zM429.52 186h1v1h-1zM429.52 180h1v1h-1zM429.52 174h1v1h-1zM429.52 168h1v1h-1zM429.52 162h1v1h-1zM429.52 156h1v1h-1zM429.52 150h1v1h-1zM429.52 145h1v1h-1zM429.52 139h1v1h-1zM429.52 133h1v1h-1zM429.52 127h1v1h-1zM429.52 121h1v1h-1zM429.52 115h1v1h-1zM429.52 109h1v1h-1zM429.52 104h1v1h-1zM429.52 98h1v1h-1zM429.52 92h1v1h-1zM429.52 86h1v1h-1zM429.52 80h1v1h-1zM429.52 74h1v1h-1zM429.52 68h1v1h-1zM429.52 63h1v1h-1zM429.52 57h1v1h-1zM429.52 51h1v1h-1zM429.52 45h1v1h-1zM429.52 39h1v1h-1zM429.52 33h1v1h-1zM429.52 27h1v1h-1zM429.52 22h1v1h-1zM429.52 16h1v1h-1zM429.52 10h1v1h-1zM437.74 332h1v1h-1zM437.74 326h1v1h-1zM437.74 320h1v1h-1zM437.74 315h1v1h-1zM437.74 309h1v1h-1zM437.74 303h1v1h-1zM437.74 297h1v1h-1zM437.74 291h1v1h-1zM437.74 285h1v1h-1zM437.74 279h1v1h-1zM437.74 274h1v1h-1zM437.74 268h1v1h-1zM437.74 262h1v1h-1zM437.74 256h1v1h-1zM437.74 250h1v1h-1zM437.74 244h1v1h-1zM437.74 238h1v1h-1zM437.74 232h1v1h-1zM437.74 227h1v1h-1zM437.74 221h1v1h-1zM437.74 215h1v1h-1zM437.74 209h1v1h-1zM437.74 203h1v1h-1zM437.74 197h1v1h-1zM437.74 191h1v1h-1zM437.74 186h1v1h-1zM437.74 180h1v1h-1zM437.74 174h1v1h-1zM437.74 168h1v1h-1zM437.74 162h1v1h-1zM437.74 156h1v1h-1zM437.74 150h1v1h-1zM437.74 145h1v1h-1zM437.74 139h1v1h-1zM437.74 133h1v1h-1zM437.74 127h1v1h-1zM437.74 121h1v1h-1zM437.74 115h1v1h-1zM437.74 109h1v1h-1zM437.74 104h1v1h-1zM437.74 98h1v1h-1zM437.74 92h1v1h-1zM437.74 86h1v1h-1zM437.74 80h1v1h-1zM437.74 74h1v1h-1zM437.74 68h1v1h-1zM437.74 63h1v1h-1zM437.74 57h1v1h-1zM437.74 51h1v1h-1zM437.74 45h1v1h-1zM437.74 39h1v1h-1zM437.74 33h1v1h-1zM437.74 27h1v1h-1zM437.74 22h1v1h-1zM437.74 16h1v1h-1zM437.74 10h1v1h-1zM444.45 332h1v1h-1zM444.45 326h1v1h-1zM444.45 320h1v1h-1zM444.45 315h1v1h-1zM444.45 309h1v1h-1zM444.45 303h1v1h-1zM444.45 297h1v1h-1zM444.45 291h1v1h-1zM444.45 285h1v1h-1zM444.45 279h1v1h-1zM444.45 274h1v1h-1zM444.45 268h1v1h-1zM444.45 262h1v1h-1zM444.45 256h1v1h-1zM444.45 250h1v1h-1zM444.45 244h1v1h-1zM444.45 238h1v1h-1zM444.45 232h1v1h-1zM444.45 227h1v1h-1zM444.45 221h1v1h-1zM444.45 215h1v1h-1zM444.45 209h1v1h-1zM444.45 203h1v1h-1zM444.45 197h1v1h-1zM444.45 191h1v1h-1zM444.45 186h1v1h-1zM444.45 180h1v1h-1zM444.45 174h1v1h-1zM444.45 168h1v1h-1zM444.45 162h1v1h-1zM444.45 156h1v1h-1zM444.45 150h1v1h-1zM444.45 145h1v1h-1zM444.45 139h1v1h-1zM444.45 133h1v1h-1zM444.45 127h1v1h-1zM444.45 121h1v1h-1zM444.45 115h1v1h-1zM444.45 109h1v1h-1zM444.45 104h1v1h-1zM444.45 98h1v1h-1zM444.45 92h1v1h-1zM444.45 86h1v1h-1zM444.45 80h1v1h-1zM444.45 74h1v1h-1zM444.45 68h1v1h-1zM444.45 63h1v1h-1zM444.45 57h1v1h-1zM444.45 51h1v1h-1zM444.45 45h1v1h-1zM444.45 39h1v1h-1zM444.45 33h1v1h-1zM444.45 27h1v1h-1zM444.45 22h1v1h-1zM444.45 16h1v1h-1zM444.45 10h1v1h-1zM450.12 332h1v1h-1zM450.12 326h1v1h-1zM450.12 320h1v1h-1zM450.12 315h1v1h-1zM450.12 309h1v1h-1zM450.12 303h1v1h-1zM450.12 297h1v1h-1zM450.12 291h1v1h-1zM450.12 285h1v1h-1zM450.12 279h1v1h-1zM450.12 274h1v1h-1zM450.12 268h1v1h-1zM450.12 262h1v1h-1zM450.12 256h1v1h-1zM450.12 250h1v1h-1zM450.12 244h1v1h-1zM450.12 238h1v1h-1zM450.12 232h1v1h-1zM450.12 227h1v1h-1zM450.12 221h1v1h-1zM450.12 215h1v1h-1zM450.12 209h1v1h-1zM450.12 203h1v1h-1zM450.12 197h1v1h-1zM450.12 191h1v1h-1zM450.12 186h1v1h-1zM450.12 180h1v1h-1zM450.12 174h1v1h-1zM450.12 168h1v1h-1zM450.12 162h1v1h-1zM450.12 156h1v1h-1zM450.12 150h1v1h-1zM450.12 145h1v1h-1zM450.12 139h1v1h-1zM450.12 133h1v1h-1zM450.12 127h1v1h-1zM450.12 121h1v1h-1zM450.12 115h1v1h-1zM450.12 109h1v1h-1zM450.12 104h1v1h-1zM450.12 98h1v1h-1zM450.12 92h1v1h-1zM450.12 86h1v1h-1zM450.12 80h1v1h-1zM450.12 74h1v1h-1zM450.12 68h1v1h-1zM450.12 63h1v1h-1zM450.12 57h1v1h-1zM450.12 51h1v1h-1zM450.12 45h1v1h-1zM450.12 39h1v1h-1zM450.12 33h1v1h-1zM450.12 27h1v1h-1zM450.12 22h1v1h-1zM450.12 16h1v1h-1zM450.12 10h1v1h-1zM455.04 332h1v1h-1zM455.04 326h1v1h-1zM455.04 320h1v1h-1zM455.04 315h1v1h-1zM455.04 309h1v1h-1zM455.04 303h1v1h-1zM455.04 297h1v1h-1zM455.04 291h1v1h-1zM455.04 285h1v1h-1zM455.04 279h1v1h-1zM455.04 274h1v1h-1zM455.04 268h1v1h-1zM455.04 262h1v1h-1zM455.04 256h1v1h-1zM455.04 250h1v1h-1zM455.04 244h1v1h-1zM455.04 238h1v1h-1zM455.04 232h1v1h-1zM455.04 227h1v1h-1zM455.04 221h1v1h-1zM455.04 215h1v1h-1zM455.04 209h1v1h-1zM455.04 203h1v1h-1zM455.04 197h1v1h-1zM455.04 191h1v1h-1zM455.04 186h1v1h-1zM455.04 180h1v1h-1zM455.04 174h1v1h-1zM455.04 168h1v1h-1zM455.04 162h1v1h-1zM455.04 156h1v1h-1zM455.04 150h1v1h-1zM455.04 145h1v1h-1zM455.04 139h1v1h-1zM455.04 133h1v1h-1zM455.04 127h1v1h-1zM455.04 121h1v1h-1zM455.04 115h1v1h-1zM455.04 109h1v1h-1zM455.04 104h1v1h-1zM455.04 98h1v1h-1zM455.04 92h1v1h-1zM455.04 86h1v1h-1zM455.04 80h1v1h-1zM455.04 74h1v1h-1zM455.04 68h1v1h-1zM455.04 63h1v1h-1zM455.04 57h1v1h-1zM455.04 51h1v1h-1zM455.04 45h1v1h-1zM455.04 39h1v1h-1zM455.04 33h1v1h-1zM455.04 27h1v1h-1zM455.04 22h1v1h-1zM455.04 16h1v1h-1zM455.04 10h1v1h-1zM459.37 332h1v1h-1zM459.37 326h1v1h-1zM459.37 320h1v1h-1zM459.37 315h1v1h-1zM459.37 309h1v1h-1zM459.37 303h1v1h-1zM459.37 297h1v1h-1zM459.37 291h1v1h-1zM459.37 285h1v1h-1zM459.37 279h1v1h-1zM459.37 274h1v1h-1zM459.37 268h1v1h-1zM459.37 262h1v1h-1zM459.37 256h1v1h-1zM459.37 250h1v1h-1zM459.37 244h1v1h-1zM459.37 238h1v1h-1zM459.37 232h1v1h-1zM459.37 227h1v1h-1zM459.37 221h1v1h-1zM459.37 215h1v1h-1zM459.37 209h1v1h-1zM459.37 203h1v1h-1zM459.37 197h1v1h-1zM459.37 191h1v1h-1zM459.37 186h1v1h-1zM459.37 180h1v1h-1zM459.37 174h1v1h-1zM459.37 168h1v1h-1zM459.37 162h1v1h-1zM459.37 156h1v1h-1zM459.37 150h1v1h-1zM459.37 145h1v1h-1zM459.37 139h1v1h-1zM459.37 133h1v1h-1zM459.37 127h1v1h-1zM459.37 121h1v1h-1zM459.37 115h1v1h-1zM459.37 109h1v1h-1zM459.37 104h1v1h-1zM459.37 98h1v1h-1zM459.37 92h1v1h-1zM459.37 86h1v1h-1zM459.37 80h1v1h-1zM459.37 74h1v1h-1zM459.37 68h1v1h-1zM459.37 63h1v1h-1zM459.37 57h1v1h-1zM459.37 51h1v1h-1zM459.37 45h1v1h-1zM459.37 39h1v1h-1zM459.37 33h1v1h-1zM459.37 27h1v1h-1zM459.37 22h1v1h-1zM459.37 16h1v1h-1zM459.37 10h1v1h-1zM45.77 304h1v1h-1zM51.65 304h1v1h-1zM57.52 304h1v1h-1zM63.40 304h1v1h-1zM69.28 304h1v1h-1zM75.15 304h1v1h-1zM81.03 304h1v1h-1zM86.90 304h1v1h-1zM92.78 304h1v1h-1zM98.65 304h1v1h-1zM104.53 304h1v1h-1zM110.40 304h1v1h-1zM116.28 304h1v1h-1zM122.15 304h1v1h-1zM128.03 304h1v1h-1zM133.90 304h1v1h-1zM139.78 304h1v1h-1zM145.65 304h1v1h-1zM151.53 304h1v1h-1zM157.40 304h1v1h-1zM163.28 304h1v1h-1zM169.15 304h1v1h-1zM175.03 304h1v1h-1zM180.90 304h1v1h-1zM186.78 304h1v1h-1zM192.65 304h1v1h-1zM198.53 304h1v1h-1zM204.40 304h1v1h-1zM210.28 304h1v1h-1zM216.15 304h1v1h-1zM222.03 304h1v1h-1zM227.90 304h1v1h-1zM233.78 304h1v1h-1zM239.65 304h1v1h-1zM245.53 304h1v1h-1zM251.40 304h1v1h-1zM257.27 304h1v1h-1zM263.15 304h1v1h-1zM269.02 304h1v1h-1zM274.90 304h1v1h-1zM280.77 304h1v1h-1zM286.65 304h1v1h-1zM292.52 304h1v1h-1zM298.40 304h1v1h-1zM304.27 304h1v1h-1zM310.15 304h1v1h-1zM316.02 304h1v1h-1zM321.90 304h1v1h-1zM327.77 304h1v1h-1zM333.65 304h1v1h-1zM339.52 304h1v1h-1zM345.40 304h1v1h-1zM351.27 304h1v1h-1zM357.15 304h1v1h-1zM363.02 304h1v1h-1zM368.90 304h1v1h-1zM374.77 304h1v1h-1zM380.65 304h1v1h-1zM386.52 304h1v1h-1zM392.40 304h1v1h-1zM398.27 304h1v1h-1zM404.15 304h1v1h-1zM410.02 304h1v1h-1zM415.90 304h1v1h-1zM421.77 304h1v1h-1zM427.65 304h1v1h-1zM433.52 304h1v1h-1zM439.40 304h1v1h-1zM445.27 304h1v1h-1zM451.15 304h1v1h-1zM457.02 304h1v1h-1zM45.77 271h1v1h-1zM51.65 271h1v1h-1zM57.52 271h1v1h-1zM63.40 271h1v1h-1zM69.28 271h1v1h-1zM75.15 271h1v1h-1zM81.03 271h1v1h-1zM86.90 271h1v1h-1zM92.78 271h1v1h-1zM98.65 271h1v1h-1zM104.53 271h1v1h-1zM110.40 271h1v1h-1zM116.28 271h1v1h-1zM122.15 271h1v1h-1zM128.03 271h1v1h-1zM133.90 271h1v1h-1zM139.78 271h1v1h-1zM145.65 271h1v1h-1zM151.53 271h1v1h-1zM157.40 271h1v1h-1zM163.28 271h1v1h-1zM169.15 271h1v1h-1zM175.03 271h1v1h-1zM180.90 271h1v1h-1zM186.78 271h1v1h-1zM192.65 271h1v1h-1zM198.53 271h1v1h-1zM204.40 271h1v1h-1zM210.28 271h1v1h-1zM216.15 271h1v1h-1zM222.03 271h1v1h-1zM227.90 271h1v1h-1zM233.78 271h1v1h-1zM239.65 271h1v1h-1zM245.53 271h1v1h-1zM251.40 271h1v1h-1zM257.27 271h1v1h-1zM263.15 271h1v1h-1zM269.02 271h1v1h-1zM274.90 271h1v1h-1zM280.77 271h1v1h-1zM286.65 271h1v1h-1zM292.52 271h1v1h-1zM298.40 271h1v1h-1zM304.27 271h1v1h-1zM310.15 271h1v1h-1zM316.02 271h1v1h-1zM321.90 271h1v1h-1zM327.77 271h1v1h-1zM333.65 271h1v1h-1zM339.52 271h1v1h-1zM345.40 271h1v1h-1zM351.27 271h1v1h-1zM357.15 271h1v1h-1zM363.02 271h1v1h-1zM368.90 271h1v1h-1zM374.77 271h1v1h-1zM380.65 271h1v1h-1zM386.52 271h1v1h-1zM392.40 271h1v1h-1zM398.27 271h1v1h-1zM404.15 271h1v1h-1zM410.02 271h1v1h-1zM415.90 271h1v1h-1zM421.77 271h1v1h-1zM427.65 271h1v1h-1zM433.52 271h1v1h-1zM439.40 271h1v1h-1zM445.27 271h1v1h-1zM451.15 271h1v1h-1zM457.02 271h1v1h-1zM45.77 237h1v1h-1zM51.65 237h1v1h-1zM57.52 237h1v1h-1zM63.40 237h1v1h-1zM69.28 237h1v1h-1zM75.15 237h1v1h-1zM81.03 237h1v1h-1zM86.90 237h1v1h-1zM92.78 237h1v1h-1zM98.65 237h1v1h-1zM104.53 237h1v1h-1zM110.40 237h1v1h-1zM116.28 237h1v1h-1zM122.15 237h1v1h-1zM128.03 237h1v1h-1zM133.90 237h1v1h-1zM139.78 237h1v1h-1zM145.65 237h1v1h-1zM151.53 237h1v1h-1zM157.40 237h1v1h-1zM163.28 237h1v1h-1zM169.15 237h1v1h-1zM175.03 237h1v1h-1zM180.90 237h1v1h-1zM186.78 237h1v1h-1zM192.65 237h1v1h-1zM198.53 237h1v1h-1zM204.40 237h1v1h-1zM210.28 237h1v1h-1zM216.15 237h1v1h-1zM222.03 237h1v1h-1zM227.90 237h1v1h-1zM233.78 237h1v1h-1zM239.65 237h1v1h-1zM245.53 237h1v1h-1zM251.40 237h1v1h-1zM257.27 237h1v1h-1zM263.15 237h1v1h-1zM269.02 237h1v1h-1zM274.90 237h1v1h-1zM280.77 237h1v1h-1zM286.65 237h1v1h-1zM292.52 237h1v1h-1zM298.40 237h1v1h-1zM304.27 237h1v1h-1zM310.15 237h1v1h-1zM316.02 237h1v1h-1zM321.90 237h1v1h-1zM327.77 237h1v1h-1zM333.65 237h1v1h-1zM339.52 237h1v1h-1zM345.40 237h1v1h-1zM351.27 237h1v1h-1zM357.15 237h1v1h-1zM363.02 237h1v1h-1zM368.90 237h1v1h-1zM374.77 237h1v1h-1zM380.65 237h1v1h-1zM386.52 237h1v1h-1zM392.40 237h1v1h-1zM398.27 237h1v1h-1zM404.15 237h1v1h-1zM410.02 237h1v1h-1zM415.90 237h1v1h-1zM421.77 237h1v1h-1zM427.65 237h1v1h-1zM433.52 237h1v1h-1zM439.40 237h1v1h-1zM445.27 237h1v1h-1zM451.15 237h1v1h-1zM457.02 237h1v1h-1zM45.77 204h1v1h-1zM51.65 204h1v1h-1zM57.52 204h1v1h-1zM63.40 204h1v1h-1zM69.28 204h1v1h-1zM75.15 204h1v1h-1zM81.03 204h1v1h-1zM86.90 204h1v1h-1zM92.78 204h1v1h-1zM98.65 204h1v1h-1zM104.53 204h1v1h-1zM110.40 204h1v1h-1zM116.28 204h1v1h-1zM122.15 204h1v1h-1zM128.03 204h1v1h-1zM133.90 204h1v1h-1zM139.78 204h1v1h-1zM145.65 204h1v1h-1zM151.53 204h1v1h-1zM157.40 204h1v1h-1zM163.28 204h1v1h-1zM169.15 204h1v1h-1zM175.03 204h1v1h-1zM180.90 204h1v1h-1zM186.78 204h1v1h-1zM192.65 204h1v1h-1zM198.53 204h1v1h-1zM204.40 204h1v1h-1zM210.28 204h1v1h-1zM216.15 204h1v1h-1zM222.03 204h1v1h-1zM227.90 204h1v1h-1zM233.78 204h1v1h-1zM239.65 204h1v1h-1zM245.53 204h1v1h-1zM251.40 204h1v1h-1zM257.27 204h1v1h-1zM263.15 204h1v1h-1zM269.02 204h1v1h-1zM274.90 204h1v1h-1zM280.77 204h1v1h-1zM286.65 204h1v1h-1zM292.52 204h1v1h-1zM298.40 204h1v1h-1zM304.27 204h1v1h-1zM310.15 204h1v1h-1zM316.02 204h1v1h-1zM321.90 204h1v1h-1zM327.77 204h1v1h-1zM333.65 204h1v1h-1zM339.52 204h1v1h-1zM345.40 204h1v1h-1zM351.27 204h1v1h-1zM357.15 204h1v1h-1zM363.02 204h1v1h-1zM368.90 204h1v1h-1zM374.77 204h1v1h-1zM380.65 204h1v1h-1zM386.52 204h1v1h-1zM392.40 204h1v1h-1zM398.27 204h1v1h-1zM404.15 204h1v1h-1zM410.02 204h1v1h-1zM415.90 204h1v1h-1zM421.77 204h1v1h-1zM427.65 204h1v1h-1zM433.52 204h1v1h-1zM439.40 204h1v1h-1zM445.27 204h1v1h-1zM451.15 204h1v1h-1zM457.02 204h1v1h-1zM45.77 171h1v1h-1zM51.65 171h1v1h-1zM57.52 171h1v1h-1zM63.40 171h1v1h-1zM69.28 171h1v1h-1zM75.15 171h1v1h-1zM81.03 171h1v1h-1zM86.90 171h1v1h-1zM92.78 171h1v1h-1zM98.65 171h1v1h-1zM104.53 171h1v1h-1zM110.40 171h1v1h-1zM116.28 171h1v1h-1zM122.15 171h1v1h-1zM128.03 171h1v1h-1zM133.90 171h1v1h-1zM139.78 171h1v1h-1zM145.65 171h1v1h-1zM151.53 171h1v1h-1zM157.40 171h1v1h-1zM163.28 171h1v1h-1zM169.15 171h1v1h-1zM175.03 171h1v1h-1zM180.90 171h1v1h-1zM186.78 171h1v1h-1zM192.65 171h1v1h-1zM198.53 171h1v1h-1zM204.40 171h1v1h-1zM210.28 171h1v1h-1zM216.15 171h1v1h-1zM222.03 171h1v1h-1zM227.90 171h1v1h-1zM233.78 171h1v1h-1zM239.65 171h1v1h-1zM245.53 171h1v1h-1zM251.40 171h1v1h-1zM257.27 171h1v1h-1zM263.15 171h1v1h-1zM269.02 171h1v1h-1zM274.90 171h1v1h-1zM280.77 171h1v1h-1zM286.65 171h1v1h-1zM292.52 171h1v1h-1zM298.40 171h1v1h-1zM304.27 171h1v1h-1zM310.15 171h1v1h-1zM316.02 171h1v1h-1zM321.90 171h1v1h-1zM327.77 171h1v1h-1zM333.65 171h1v1h-1zM339.52 171h1v1h-1zM345.40 171h1v1h-1zM351.27 171h1v1h-1zM357.15 171h1v1h-1zM363.02 171h1v1h-1zM368.90 171h1v1h-1zM374.77 171h1v1h-1zM380.65 171h1v1h-1zM386.52 171h1v1h-1zM392.40 171h1v1h-1zM398.27 171h1v1h-1zM404.15 171h1v1h-1zM410.02 171h1v1h-1zM415.90 171h1v1h-1zM421.77 171h1v1h-1zM427.65 171h1v1h-1zM433.52 171h1v1h-1zM439.40 171h1v1h-1zM445.27 171h1v1h-1zM451.15 171h1v1h-1zM457.02 171h1v1h-1zM45.77 137h1v1h-1zM51.65 137h1v1h-1zM57.52 137h1v1h-1zM63.40 137h1v1h-1zM69.28 137h1v1h-1zM75.15 137h1v1h-1zM81.03 137h1v1h-1zM86.90 137h1v1h-1zM92.78 137h1v1h-1zM98.65 137h1v1h-1zM104.53 137h1v1h-1zM110.40 137h1v1h-1zM116.28 137h1v1h-1zM122.15 137h1v1h-1zM128.03 137h1v1h-1zM133.90 137h1v1h-1zM139.78 137h1v1h-1zM145.65 137h1v1h-1zM151.53 137h1v1h-1zM157.40 137h1v1h-1zM163.28 137h1v1h-1zM169.15 137h1v1h-1zM175.03 137h1v1h-1zM180.90 137h1v1h-1zM186.78 137h1v1h-1zM192.65 137h1v1h-1zM198.53 137h1v1h-1zM204.40 137h1v1h-1zM210.28 137h1v1h-1zM216.15 137h1v1h-1zM222.03 137h1v1h-1zM227.90 137h1v1h-1zM233.78 137h1v1h-1zM239.65 137h1v1h-1zM245.53 137h1v1h-1zM251.40 137h1v1h-1zM257.27 137h1v1h-1zM263.15 137h1v1h-1zM269.02 137h1v1h-1zM274.90 137h1v1h-1zM280.77 137h1v1h-1zM286.65 137h1v1h-1zM292.52 137h1v1h-1zM298.40 137h1v1h-1zM304.27 137h1v1h-1zM310.15 137h1v1h-1zM316.02 137h1v1h-1zM321.90 137h1v1h-1zM327.77 137h1v1h-1zM333.65 137h1v1h-1zM339.52 137h1v1h-1zM345.40 137h1v1h-1zM351.27 137h1v1h-1zM357.15 137h1v1h-1zM363.02 137h1v1h-1zM368.90 137h1v1h-1zM374.77 137h1v1h-1zM380.65 137h1v1h-1zM386.52 137h1v1h-1zM392.40 137h1v1h-1zM398.27 137h1v1h-1zM404.15 137h1v1h-1zM410.02 137h1v1h-1zM415.90 137h1v1h-1zM421.77 137h1v1h-1zM427.65 137h1v1h-1zM433.52 137h1v1h-1zM439.40 137h1v1h-1zM445.27 137h1v1h-1zM451.15 137h1v1h-1zM457.02 137h1v1h-1zM45.77 104h1v1h-1zM51.65 104h1v1h-1zM57.52 104h1v1h-1zM63.40 104h1v1h-1zM69.28 104h1v1h-1zM75.15 104h1v1h-1zM81.03 104h1v1h-1zM86.90 104h1v1h-1zM92.78 104h1v1h-1zM98.65 104h1v1h-1zM104.53 104h1v1h-1zM110.40 104h1v1h-1zM116.28 104h1v1h-1zM122.15 104h1v1h-1zM128.03 104h1v1h-1zM133.90 104h1v1h-1zM139.78 104h1v1h-1zM145.65 104h1v1h-1zM151.53 104h1v1h-1zM157.40 104h1v1h-1zM163.28 104h1v1h-1zM169.15 104h1v1h-1zM175.03 104h1v1h-1zM180.90 104h1v1h-1zM186.78 104h1v1h-1zM192.65 104h1v1h-1zM198.53 104h1v1h-1zM204.40 104h1v1h-1zM210.28 104h1v1h-1zM216.15 104h1v1h-1zM222.03 104h1v1h-1zM227.90 104h1v1h-1zM233.78 104h1v1h-1zM239.65 104h1v1h-1zM245.53 104h1v1h-1zM251.40 104h1v1h-1zM257.27 104h1v1h-1zM263.15 104h1v1h-1zM269.02 104h1v1h-1zM274.90 104h1v1h-1zM280.77 104h1v1h-1zM286.65 104h1v1h-1zM292.52 104h1v1h-1zM298.40 104h1v1h-1zM304.27 104h1v1h-1zM310.15 104h1v1h-1zM316.02 104h1v1h-1zM321.90 104h1v1h-1zM327.77 104h1v1h-1zM333.65 104h1v1h-1zM339.52 104h1v1h-1zM345.40 104h1v1h-1zM351.27 104h1v1h-1zM357.15 104h1v1h-1zM363.02 104h1v1h-1zM368.90 104h1v1h-1zM374.77 104h1v1h-1zM380.65 104h1v1h-1zM386.52 104h1v1h-1zM392.40 104h1v1h-1zM398.27 104h1v1h-1zM404.15 104h1v1h-1zM410.02 104h1v1h-1zM415.90 104h1v1h-1zM421.77 104h1v1h-1zM427.65 104h1v1h-1zM433.52 104h1v1h-1zM439.40 104h1v1h-1zM445.27 104h1v1h-1zM451.15 104h1v1h-1zM457.02 104h1v1h-1zM45.77 70h1v1h-1zM51.65 70h1v1h-1zM57.52 70h1v1h-1zM63.40 70h1v1h-1zM69.28 70h1v1h-1zM75.15 70h1v1h-1zM81.03 70h1v1h-1zM86.90 70h1v1h-1zM92.78 70h1v1h-1zM98.65 70h1v1h-1zM104.53 70h1v1h-1zM110.40 70h1v1h-1zM116.28 70h1v1h-1zM122.15 70h1v1h-1zM128.03 70h1v1h-1zM133.90 70h1v1h-1zM139.78 70h1v1h-1zM145.65 70h1v1h-1zM151.53 70h1v1h-1zM157.40 70h1v1h-1zM163.28 70h1v1h-1zM169.15 70h1v1h-1zM175.03 70h1v1h-1zM180.90 70h1v1h-1zM186.78 70h1v1h-1zM192.65 70h1v1h-1zM198.53 70h1v1h-1zM204.40 70h1v1h-1zM210.28 70h1v1h-1zM216.15 70h1v1h-1zM222.03 70h1v1h-1zM227.90 70h1v1h-1zM233.78 70h1v1h-1zM239.65 70h1v1h-1zM245.53 70h1v1h-1zM251.40 70h1v1h-1zM257.27 70h1v1h-1zM263.15 70h1v1h-1zM269.02 70h1v1h-1zM274.90 70h1v1h-1zM280.77 70h1v1h-1zM286.65 70h1v1h-1zM292.52 70h1v1h-1zM298.40 70h1v1h-1zM304.27 70h1v1h-1zM310.15 70h1v1h-1zM316.02 70h1v1h-1zM321.90 70h1v1h-1zM327.77 70h1v1h-1zM333.65 70h1v1h-1zM339.52 70h1v1h-1zM345.40 70h1v1h-1zM351.27 70h1v1h-1zM357.15 70h1v1h-1zM363.02 70h1v1h-1zM368.90 70h1v1h-1zM374.77 70h1v1h-1zM380.65 70h1v1h-1zM386.52 70h1v1h-1zM392.40 70h1v1h-1zM398.27 70h1v1h-1zM404.15 70h1v1h-1zM410.02 70h1v1h-1zM415.90 70h1v1h-1zM421.77 70h1v1h-1zM427.65 70h1v1h-1zM433.52 70h1v1h-1zM439.40 70h1v1h-1zM445.27 70h1v1h-1zM451.15 70h1v1h-1zM457.02 70h1v1h-1zM45.77 37h1v1h-1zM51.65 37h1v1h-1zM57.52 37h1v1h-1zM63.40 37h1v1h-1zM69.28 37h1v1h-1zM75.15 37h1v1h-1zM81.03 37h1v1h-1zM86.90 37h1v1h-1zM92.78 37h1v1h-1zM98.65 37h1v1h-1zM104.53 37h1v1h-1zM110.40 37h1v1h-1zM116.28 37h1v1h-1zM122.15 37h1v1h-1zM128.03 37h1v1h-1zM133.90 37h1v1h-1zM139.78 37h1v1h-1zM145.65 37h1v1h-1zM151.53 37h1v1h-1zM157.40 37h1v1h-1zM163.28 37h1v1h-1zM169.15 37h1v1h-1zM175.03 37h1v1h-1zM180.90 37h1v1h-1zM186.78 37h1v1h-1zM192.65 37h1v1h-1zM198.53 37h1v1h-1zM204.40 37h1v1h-1zM210.28 37h1v1h-1zM216.15 37h1v1h-1zM222.03 37h1v1h-1zM227.90 37h1v1h-1zM233.78 37h1v1h-1zM239.65 37h1v1h-1zM245.53 37h1v1h-1zM251.40 37h1v1h-1zM257.27 37h1v1h-1zM263.15 37h1v1h-1zM269.02 37h1v1h-1zM274.90 37h1v1h-1zM280.77 37h1v1h-1zM286.65 37h1v1h-1zM292.52 37h1v1h-1zM298.40 37h1v1h-1zM304.27 37h1v1h-1zM310.15 37h1v1h-1zM316.02 37h1v1h-1zM321.90 37h1v1h-1zM327.77 37h1v1h-1zM333.65 37h1v1h-1zM339.52 37h1v1h-1zM345.40 37h1v1h-1zM351.27 37h1v1h-1zM357.15 37h1v1h-1zM363.02 37h1v1h-1zM368.90 37h1v1h-1zM374.77 37h1v1h-1zM380.65 37h1v1h-1zM386.52 37h1v1h-1zM392.40 37h1v1h-1zM398.27 37h1v1h-1zM404.15 37h1v1h-1zM410.02 37h1v1h-1zM415.90 37h1v1h-1zM421.77 37h1v1h-1zM427.65 37h1v1h-1zM433.52 37h1v1h-1zM439.40 37h1v1h-1zM445.27 37h1v1h-1zM451.15 37h1v1h-1zM457.02 37h1v1h-1z" fill="#111"/>
<path d="M41 338 h4v1h-4z M463 338 h-4v1h4z M41 304 h4v1h-4z M463 304 h-4v1h4z M41 271 h4v1h-4z M463 271 h-4v1h4z M41 237 h4v1h-4z M463 237 h-4v1h4z M41 204 h4v1h-4z M463 204 h-4v1h4z M41 171 h4v1h-4z M463 171 h-4v1h4z M41 137 h4v1h-4z M463 137 h-4v1h4z M41 104 h4v1h-4z M463 104 h-4v1h4z M41 70 h4v1h-4z M463 70 h-4v1h4z M41 37 h4v1h-4z M463 37 h-4v1h4z M41 4 h4v1h-4z M463 4 h-4v1h4z M65.01 338 v-2.0h1v2.0z M65.01 5 v2.0h1v-2.0z M79.94 338 v-2.0h1v2.0z M79.94 5 v2.0h1v-2.0z M90.52 338 v-2.0h1v2.0z M90.52 5 v2.0h1v-2.0z M98.74 338 v-2.0h1v2.0z M98.74 5 v2.0h1v-2.0z M105.45 338 v-2.0h1v2.0z M105.45 5 v2.0h1v-2.0z M111.12 338 v-2.0h1v2.0z M111.12 5 v2.0h1v-2.0z M116.04 338 v-2.0h1v2.0z M116.04 5 v2.0h1v-2.0z M120.37 338 v-2.0h1v2.0z M120.37 5 v2.0h1v-2.0z M124.25 338 v-4.5h1v4.5z M124.25 5 v4.5h1v-4.5z M149.76 338 v-2.0h1v2.0z M149.76 5 v2.0h1v-2.0z M164.69 338 v-2.0h1v2.0z M164.69 5 v2.0h1v-2.0z M175.27 338 v-2.0h1v2.0z M175.27 5 v2.0h1v-2.0z M183.49 338 v-2.0h1v2.0z M183.49 5 v2.0h1v-2.0z M190.20 338 v-2.0h1v2.0z M190.20 5 v2.0h1v-2.0z M195.87 338 v-2.0h1v2.0z M195.87 5 v2.0h1v-2.0z M200.79 338 v-2.0h1v2.0z M200.79 5 v2.0h1v-2.0z M205.12 338 v-2.0h1v2.0z M205.12 5 v2.0h1v-2.0z M209.00 338 v-4.5h1v4.5z M209.00 5 v4.5h1v-4.5z M234.51 338 v-2.0h1v2.0z M234.51 5 v2.0h1v-2.0z M249.44 338 v-2.0h1v2.0z M249.44 5 v2.0h1v-2.0z M260.02 338 v-2.0h1v2.0z M260.02 5 v2.0h1v-2.0z M268.24 338 v-2.0h1v2.0z M268.24 5 v2.0h1v-2.0z M274.95 338 v-2.0h1v2.0z M274.95 5 v2.0h1v-2.0z M280.62 338 v-2.0h1v2.0z M280.62 5 v2.0h1v-2.0z M285.54 338 v-2.0h1v2.0z M285.54 5 v2.0h1v-2.0z M289.87 338 v-2.0h1v2.0z M289.87 5 v2.0h1v-2.0z M293.75 338 v-4.5h1v4.5z M293.75 5 v4.5h1v-4.5z M319.26 338 v-2.0h1v2.0z M319.26 5 v2.0h1v-2.0z M334.19 338 v-2.0h1v2.0z M334.19 5 v2.0h1v-2.0z M344.77 338 v-2.0h1v2.0z M344.77 5 v2.0h1v-2.0z M352.99 338 v-2.0h1v2.0z M352.99 5 v2.0h1v-2.0z M359.70 338 v-2.0h1v2.0z M359.70 5 v2.0h1v-2.0z M365.37 338 v-2.0h1v2.0z M365.37 5 v2.0h1v-2.0z M370.29 338 v-2.0h1v2.0z M370.29 5 v2.0h1v-2.0z M374.62 338 v-2.0h1v2.0z M374.62 5 v2.0h1v-2.0z M378.50 338 v-4.5h1v4.5z M378.50 5 v4.5h1v-4.5z M404.01 338 v-2.0h1v2.0z M404.01 5 v2.0h1v-2.0z M418.94 338 v-2.0h1v2.0z M418.94 5 v2.0h1v-2.0z M429.52 338 v-2.0h1v2.0z M429.52 5 v2.0h1v-2.0z M437.74 338 v-2.0h1v2.0z M437.74 5 v2.0h1v-2.0z M444.45 338 v-2.0h1v2.0z M444.45 5 v2.0h1v-2.0z M450.12 338 v-2.0h1v2.0z M450.12 5 v2.0h1v-2.0z M455.04 338 v-2.0h1v2.0z M455.04 5 v2.0h1v-2.0z M459.37 338 v-2.0h1v2.0z M459.37 5 v2.0h1v-2.0z" fill="#000"/>
<path d="M39 4 H464 V339 H39 Z M41 5 V338 H463 V5 Z" fill="#000" fill-rule="evenodd"/>
<rect x="39" y="4" width="2" height="335" fill="#777"/>
<polyline points="40.00,185.50 48.48,185.50 56.95,185.50 65.42,185.50 73.90,185.50 82.38,185.50 90.85,185.50 99.32,185.50 107.80,185.50 116.27,185.50 124.75,163.00 133.22,163.00 141.70,163.00 150.18,163.00 158.65,163.80 167.12,163.80 175.60,163.80 184.07,164.80 192.55,164.80 201.03,137.30 209.50,135.30 217.97,135.30 226.45,135.30 234.92,162.00 243.40,163.80 251.88,163.80 260.35,185.50 268.82,185.50 277.30,145.00 285.77,134.50 294.25,134.50 302.72,134.50 311.20,208.60 319.68,216.60 328.15,263.60 336.62,263.60 345.10,263.60 353.57,263.60 362.05,263.60 370.52,312.70 379.00,312.70 387.47,326.40 395.95,326.40 404.43,326.40 412.90,326.40 421.38,334.90 429.85,336.80 438.32,336.80 446.80,336.60 455.27,338.30 463.75,337.80" stroke="#0000ff" stroke-width="1.3" fill="none" stroke-linejoin="round"/>
<path d="M36.70 182.20 h6.6 v6.6 h-6.6 Z M45.18 182.20 h6.6 v6.6 h-6.6 Z M53.65 182.20 h6.6 v6.6 h-6.6 Z M62.12 182.20 h6.6 v6.6 h-6.6 Z M70.60 182.20 h6.6 v6.6 h-6.6 Z M79.08 182.20 h6.6 v6.6 h-6.6 Z M87.55 182.20 h6.6 v6.6 h-6.6 Z M96.02 182.20 h6.6 v6.6 h-6.6 Z M104.50 182.20 h6.6 v6.6 h-6.6 Z M112.97 182.20 h6.6 v6.6 h-6.6 Z M121.45 159.70 h6.6 v6.6 h-6.6 Z M129.92 159.70 h6.6 v6.6 h-6.6 Z M138.40 159.70 h6.6 v6.6 h-6.6 Z M146.88 159.70 h6.6 v6.6 h-6.6 Z M155.35 160.50 h6.6 v6.6 h-6.6 Z M163.82 160.50 h6.6 v6.6 h-6.6 Z M172.30 160.50 h6.6 v6.6 h-6.6 Z M180.77 161.50 h6.6 v6.6 h-6.6 Z M189.25 161.50 h6.6 v6.6 h-6.6 Z M197.72 134.00 h6.6 v6.6 h-6.6 Z M206.20 132.00 h6.6 v6.6 h-6.6 Z M214.67 132.00 h6.6 v6.6 h-6.6 Z M223.15 132.00 h6.6 v6.6 h-6.6 Z M231.62 158.70 h6.6 v6.6 h-6.6 Z M240.10 160.50 h6.6 v6.6 h-6.6 Z M248.57 160.50 h6.6 v6.6 h-6.6 Z M257.05 182.20 h6.6 v6.6 h-6.6 Z M265.52 182.20 h6.6 v6.6 h-6.6 Z M274.00 141.70 h6.6 v6.6 h-6.6 Z M282.47 131.20 h6.6 v6.6 h-6.6 Z M290.95 131.20 h6.6 v6.6 h-6.6 Z M299.42 131.20 h6.6 v6.6 h-6.6 Z M307.90 205.30 h6.6 v6.6 h-6.6 Z M316.38 213.30 h6.6 v6.6 h-6.6 Z M324.85 260.30 h6.6 v6.6 h-6.6 Z M333.32 260.30 h6.6 v6.6 h-6.6 Z M341.80 260.30 h6.6 v6.6 h-6.6 Z M350.27 260.30 h6.6 v6.6 h-6.6 Z M358.75 260.30 h6.6 v6.6 h-6.6 Z M367.22 309.40 h6.6 v6.6 h-6.6 Z M375.70 309.40 h6.6 v6.6 h-6.6 Z M384.17 323.10 h6.6 v6.6 h-6.6 Z M392.65 323.10 h6.6 v6.6 h-6.6 Z M401.12 323.10 h6.6 v6.6 h-6.6 Z M409.60 323.10 h6.6 v6.6 h-6.6 Z M418.07 331.60 h6.6 v6.6 h-6.6 Z M426.55 333.50 h6.6 v6.6 h-6.6 Z M435.02 333.50 h6.6 v6.6 h-6.6 Z M443.50 333.30 h6.6 v6.6 h-6.6 Z M451.97 335.00 h6.6 v6.6 h-6.6 Z M460.45 334.50 h6.6 v6.6 h-6.6 Z" stroke="#0000ff" stroke-width="1.1" fill="none"/>
<path d="M446.80 144.10 L455.27 134.80" stroke="#ff9a9a" stroke-width="1.1" fill="none"/>
<path d="M345.10 64.80 L353.57 55.30" stroke="#ff9a9a" stroke-width="1.1" fill="none"/>
<polyline points="40.00,185.50 48.48,185.50 56.95,185.50 65.42,185.50 73.90,185.50 82.38,185.50 90.85,185.50 99.32,185.50 107.80,185.50 116.27,185.50 124.75,164.70 133.22,164.70 141.70,164.70 150.18,164.70 158.65,164.70 167.12,164.70 175.60,164.70 184.07,164.70 192.55,164.70 201.03,137.70 209.50,135.30 217.97,135.30 226.45,135.30 234.92,135.30 243.40,133.20 251.88,133.20 260.35,133.20 268.82,133.20 277.30,83.60 285.77,72.10 294.25,68.70 302.72,68.70 311.20,66.80 319.68,87.20 328.15,64.80 336.62,64.80 345.10,64.80" stroke="#ff0000" stroke-width="1.3" fill="none" stroke-linejoin="round"/>
<polyline points="353.57,55.30 362.05,55.30 370.52,58.30 379.00,58.30 387.47,97.10 395.95,97.10 404.43,124.30 412.90,84.50 421.38,84.50 429.85,184.80 438.32,184.80 446.80,144.10" stroke="#ff0000" stroke-width="1.3" fill="none" stroke-linejoin="round"/>
<polyline points="455.27,134.80 463.75,134.80" stroke="#ff0000" stroke-width="1.3" fill="none" stroke-linejoin="round"/>
<path d="M35.70 185.50 h8.6 M40.00 181.20 v8.6 M44.18 185.50 h8.6 M48.48 181.20 v8.6 M52.65 185.50 h8.6 M56.95 181.20 v8.6 M61.12 185.50 h8.6 M65.42 181.20 v8.6 M69.60 185.50 h8.6 M73.90 181.20 v8.6 M78.08 185.50 h8.6 M82.38 181.20 v8.6 M86.55 185.50 h8.6 M90.85 181.20 v8.6 M95.02 185.50 h8.6 M99.32 181.20 v8.6 M103.50 185.50 h8.6 M107.80 181.20 v8.6 M111.97 185.50 h8.6 M116.27 181.20 v8.6 M120.45 164.70 h8.6 M124.75 160.40 v8.6 M128.92 164.70 h8.6 M133.22 160.40 v8.6 M137.40 164.70 h8.6 M141.70 160.40 v8.6 M145.88 164.70 h8.6 M150.18 160.40 v8.6 M154.35 164.70 h8.6 M158.65 160.40 v8.6 M162.82 164.70 h8.6 M167.12 160.40 v8.6 M171.30 164.70 h8.6 M175.60 160.40 v8.6 M179.77 164.70 h8.6 M184.07 160.40 v8.6 M188.25 164.70 h8.6 M192.55 160.40 v8.6 M196.72 137.70 h8.6 M201.03 133.40 v8.6 M205.20 135.30 h8.6 M209.50 131.00 v8.6 M213.67 135.30 h8.6 M217.97 131.00 v8.6 M222.15 135.30 h8.6 M226.45 131.00 v8.6 M230.62 135.30 h8.6 M234.92 131.00 v8.6 M239.10 133.20 h8.6 M243.40 128.90 v8.6 M247.57 133.20 h8.6 M251.88 128.90 v8.6 M256.05 133.20 h8.6 M260.35 128.90 v8.6 M264.52 133.20 h8.6 M268.82 128.90 v8.6 M273.00 83.60 h8.6 M277.30 79.30 v8.6 M281.47 72.10 h8.6 M285.77 67.80 v8.6 M289.95 68.70 h8.6 M294.25 64.40 v8.6 M298.42 68.70 h8.6 M302.72 64.40 v8.6 M306.90 66.80 h8.6 M311.20 62.50 v8.6 M315.38 87.20 h8.6 M319.68 82.90 v8.6 M323.85 64.80 h8.6 M328.15 60.50 v8.6 M332.32 64.80 h8.6 M336.62 60.50 v8.6 M349.27 55.30 h8.6 M353.57 51.00 v8.6 M357.75 55.30 h8.6 M362.05 51.00 v8.6 M366.22 58.30 h8.6 M370.52 54.00 v8.6 M374.70 58.30 h8.6 M379.00 54.00 v8.6 M383.17 97.10 h8.6 M387.47 92.80 v8.6 M391.65 97.10 h8.6 M395.95 92.80 v8.6 M400.12 124.30 h8.6 M404.43 120.00 v8.6 M408.60 84.50 h8.6 M412.90 80.20 v8.6 M417.07 84.50 h8.6 M421.38 80.20 v8.6 M425.55 184.80 h8.6 M429.85 180.50 v8.6 M434.02 184.80 h8.6 M438.32 180.50 v8.6 M442.50 144.10 h8.6 M446.80 139.80 v8.6 M459.45 134.80 h8.6 M463.75 130.50 v8.6" stroke="#ff0000" stroke-width="1.2" fill="none"/>
<path d="M450.97 134.80 h8.6 M455.27 130.50 v8.6 M340.80 64.80 h8.6 M345.10 60.50 v8.6" stroke="#ff5050" stroke-width="1.2" fill="none"/>
<rect x="65.5" y="4.5" width="186" height="52.7" fill="#fff" stroke="#000" stroke-width="1.2"/>
<path d="M73 19.5 H112.8" stroke="#0000ff" stroke-width="1.3"/>
<rect x="89.5" y="15.75" width="6.7" height="6.6" fill="none" stroke="#0000ff" stroke-width="1.1"/>
<path d="M73 43.3 H112.8" stroke="#ff0000" stroke-width="1.3"/><path d="M93.2 39.1 v8.8" stroke="#ff4a4a" stroke-width="1.3"/>
<text x="117" y="20.6" font-size="12.7" font-style="italic">TAGLA(th<tspan font-size="9.8" letter-spacing="0.3" dy="5.9">PER</tspan><tspan dy="-5.9">)</tspan></text>
<text x="117" y="45.9" font-size="12.7" font-style="italic">QAWLA(th<tspan font-size="9.8" letter-spacing="0.3" dy="5.9">PER</tspan><tspan dy="-5.9" dx="1.2" font-style="normal">,<tspan class="one">1</tspan>00,20)</tspan></text>
<text x="36.5" y="343.10" font-size="12.7" text-anchor="end">0</text>
<text x="36.5" y="309.70" font-size="12.7" text-anchor="end">0.1</text>
<text x="36.5" y="276.30" font-size="12.7" text-anchor="end">0.2</text>
<text x="36.5" y="242.90" font-size="12.7" text-anchor="end">0.3</text>
<text x="36.5" y="209.50" font-size="12.7" text-anchor="end">0.4</text>
<text x="36.5" y="176.10" font-size="12.7" text-anchor="end">0.5</text>
<text x="36.5" y="142.70" font-size="12.7" text-anchor="end">0.6</text>
<text x="36.5" y="109.30" font-size="12.7" text-anchor="end">0.7</text>
<text x="36.5" y="75.90" font-size="12.7" text-anchor="end">0.8</text>
<text x="36.5" y="42.50" font-size="12.7" text-anchor="end">0.9</text>
<text x="36.5" y="9.10" font-size="12.7" text-anchor="end"><tspan class="one">1</tspan></text>
<text x="40.50" y="358" font-size="12.7" text-anchor="middle"><tspan class="one">1</tspan>0<tspan font-size="8.5" dx="0.8" style="stroke-width:0.3px"><tspan dy="-7.1" style="stroke-width:0;fill:#333">&#8211;</tspan><tspan dy="-0.7">5</tspan></tspan></text>
<text x="125.25" y="358" font-size="12.7" text-anchor="middle"><tspan class="one">1</tspan>0<tspan font-size="8.5" dx="0.8" style="stroke-width:0.3px"><tspan dy="-7.1" style="stroke-width:0;fill:#333">&#8211;</tspan><tspan dy="-0.7">4</tspan></tspan></text>
<text x="210.00" y="358" font-size="12.7" text-anchor="middle"><tspan class="one">1</tspan>0<tspan font-size="8.5" dx="0.8" style="stroke-width:0.3px"><tspan dy="-7.1" style="stroke-width:0;fill:#333">&#8211;</tspan><tspan dy="-0.7">3</tspan></tspan></text>
<text x="294.75" y="358" font-size="12.7" text-anchor="middle"><tspan class="one">1</tspan>0<tspan font-size="8.5" dx="0.8" style="stroke-width:0.3px"><tspan dy="-7.1" style="stroke-width:0;fill:#333">&#8211;</tspan><tspan dy="-0.7">2</tspan></tspan></text>
<text x="379.50" y="358" font-size="12.7" text-anchor="middle"><tspan class="one">1</tspan>0<tspan font-size="8.5" dx="0.8" style="stroke-width:0.3px"><tspan dy="-7.1" style="stroke-width:0;fill:#333">&#8211;</tspan><tspan dy="-0.7">1</tspan></tspan></text>
<text x="464.25" y="358" font-size="12.7" text-anchor="middle"><tspan class="one">1</tspan>0<tspan font-size="8.5" dx="0.8" style="stroke-width:0.3px"><tspan dy="-7.8">0</tspan></tspan></text>
<text x="235.7" y="373.5" font-size="13" font-style="italic">th<tspan font-size="10.3" letter-spacing="0.2" dy="6.3">PER</tspan></text>
<text transform="translate(10,170) rotate(-90)" font-size="13.06" text-anchor="middle">Worst Case Normalized Aggregate TCP Throughput</text>
<path d="M207.78 45.90 L207.78 36.90 L206.99 36.90 L206.84 37.52 L206.36 38.03 L205.47 38.22 L204.45 38.28 L204.45 39.23 L206.77 39.23 L206.77 45.90Z M34.03 9.10 L34.03 0.10 L33.25 0.10 L33.10 0.72 L32.61 1.23 L31.72 1.42 L30.71 1.48 L30.71 2.43 L33.02 2.43 L33.02 9.10Z M32.90 358.00 L32.90 349.00 L32.11 349.00 L31.96 349.62 L31.48 350.13 L30.59 350.32 L29.57 350.38 L29.57 351.33 L31.88 351.33 L31.88 358.00Z M117.65 358.00 L117.65 349.00 L116.86 349.00 L116.71 349.62 L116.23 350.13 L115.34 350.32 L114.32 350.38 L114.32 351.33 L116.63 351.33 L116.63 358.00Z M202.40 358.00 L202.40 349.00 L201.61 349.00 L201.46 349.62 L200.98 350.13 L200.09 350.32 L199.07 350.38 L199.07 351.33 L201.38 351.33 L201.38 358.00Z M287.15 358.00 L287.15 349.00 L286.36 349.00 L286.21 349.62 L285.73 350.13 L284.84 350.32 L283.82 350.38 L283.82 351.33 L286.13 351.33 L286.13 358.00Z M371.90 358.00 L371.90 349.00 L371.11 349.00 L370.96 349.62 L370.48 350.13 L369.59 350.32 L368.57 350.38 L368.57 351.33 L370.88 351.33 L370.88 358.00Z M459.02 358.00 L459.02 349.00 L458.23 349.00 L458.08 349.62 L457.60 350.13 L456.71 350.32 L455.69 350.38 L455.69 351.33 L458.00 351.33 L458.00 358.00Z" fill="#000" stroke="#000" stroke-width="0.75" stroke-linejoin="round"/>
</svg></body></html>
